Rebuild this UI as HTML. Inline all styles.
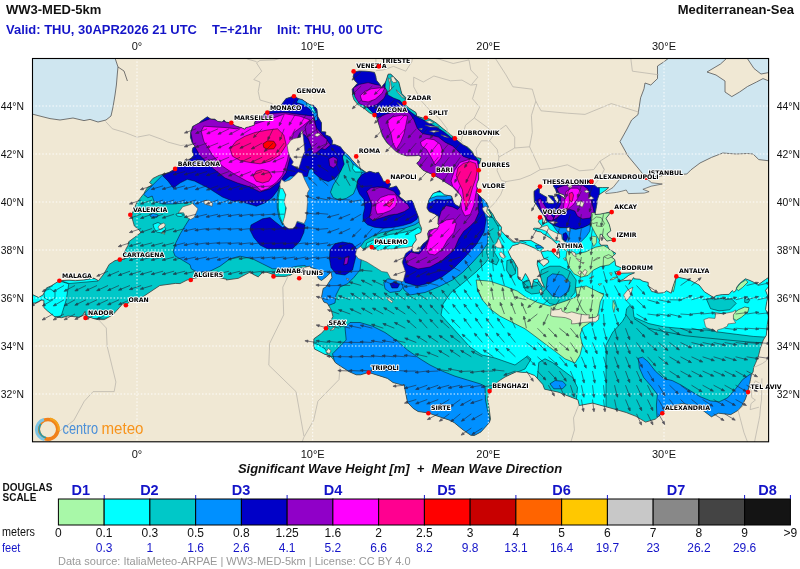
<!DOCTYPE html><html><head><meta charset="utf-8"><title>WW3-MED-5km Significant Wave Height</title>
<style>html,body{margin:0;padding:0;background:#fff}svg{display:block}text{font-family:"Liberation Sans","DejaVu Sans",sans-serif}.c{font-family:"DejaVu Sans","Liberation Sans",sans-serif;font-weight:bold;font-size:6.25px;fill:#000;stroke:#fff;stroke-width:1.8px;paint-order:stroke;stroke-linejoin:round}.ax{font-size:11px;fill:#111}.ft{font-size:12px;fill:#1414c8}.mt{font-size:12px;fill:#111}.d{font-size:14.5px;font-weight:bold;fill:#1414c8}</style></head><body>
<svg width="800" height="569" viewBox="0 0 800 569">
<rect width="800" height="569" fill="#fff"/>
<defs><clipPath id="fr"><rect x="32" y="58" width="737" height="384"/></clipPath>
<clipPath id="sea"><polygon points="30.7,293.7 38.6,297.5 43.0,294.9 46.5,287.9 51.3,285.8 59.4,280.7 69.0,280.2 75.2,280.7 83.9,280.0 93.8,278.1 98.5,280.7 103.8,274.0 109.2,264.4 115.0,260.6 119.8,259.6 124.9,258.9 123.3,254.3 125.1,250.5 128.0,245.4 128.6,241.8 134.7,237.3 141.0,232.5 138.9,229.8 134.4,226.0 133.1,221.7 131.4,215.2 133.5,210.4 136.7,202.7 144.0,193.4 145.4,190.7 147.5,187.6 152.3,184.7 149.5,182.6 152.8,178.5 159.0,175.4 168.8,172.5 175.1,168.9 180.0,165.3 186.2,161.9 192.0,157.6 193.7,155.2 192.2,151.1 192.9,147.8 195.3,146.3 192.5,143.7 190.4,137.2 190.6,132.4 192.7,126.4 198.5,123.3 202.0,120.4 207.3,116.8 210.8,119.0 214.8,119.2 217.8,121.4 222.2,122.1 224.0,119.9 225.7,122.1 231.3,122.8 234.3,125.0 235.6,125.9 241.2,127.6 245.0,129.3 245.9,127.6 248.9,126.9 254.3,125.2 254.3,123.5 255.6,119.9 260.3,116.8 262.3,116.8 264.7,113.4 267.3,112.5 268.8,111.5 273.7,110.6 278.1,108.9 281.4,104.8 286.0,98.6 293.9,96.2 298.8,98.8 302.1,99.5 309.7,104.8 313.6,105.3 316.9,109.1 317.4,113.7 317.9,116.8 321.5,122.8 321.5,131.7 325.8,131.9 325.5,134.8 330.2,136.7 332.5,140.8 332.0,144.4 334.6,144.4 340.4,146.8 344.1,151.8 348.7,155.7 351.7,159.5 358.7,167.2 366.3,172.5 369.8,171.3 375.4,173.0 378.5,172.2 381.7,177.5 383.5,181.6 387.3,181.8 390.8,184.0 388.7,188.1 393.5,186.9 396.3,185.9 399.6,191.2 400.2,193.6 398.8,196.0 405.4,201.3 411.6,200.3 413.2,202.5 414.4,206.6 418.6,217.4 419.3,222.9 421.6,228.4 420.9,232.5 415.1,235.1 416.3,239.9 413.2,244.0 411.7,247.4 412.5,251.2 414.2,251.9 419.1,251.9 421.2,246.4 423.3,243.5 425.1,242.3 428.3,239.2 427.7,233.4 429.1,230.3 436.0,228.2 437.4,228.4 439.2,225.3 437.9,224.1 438.3,216.4 434.8,214.0 429.1,211.6 426.9,208.0 427.4,205.1 429.1,199.6 433.0,193.6 439.7,190.7 444.4,194.8 451.5,196.0 453.2,200.8 455.0,204.4 459.5,206.8 462.0,198.4 460.2,194.8 452.3,186.6 446.2,182.8 440.9,179.2 433.4,174.9 423.0,170.3 416.7,163.1 419.1,161.2 421.2,156.9 418.4,155.2 416.0,155.7 406.7,155.9 400.5,154.0 395.6,151.1 390.0,145.6 386.8,142.7 382.4,136.0 381.0,131.2 378.2,122.6 376.3,116.8 374.3,115.1 369.2,112.7 365.7,109.8 363.8,108.2 357.8,104.6 354.0,99.8 352.7,95.9 352.2,89.2 357.5,83.2 354.8,80.8 353.1,76.7 354.3,71.9 359.2,71.0 365.4,71.2 370.6,71.7 374.5,72.4 375.9,76.5 376.4,80.1 380.3,85.1 381.2,87.5 385.6,82.0 386.8,78.4 388.2,74.1 390.7,74.1 398.8,82.0 401.7,93.5 405.8,97.6 404.4,103.1 408.4,107.7 416.0,112.5 416.7,116.1 422.5,118.0 425.8,117.8 430.4,119.4 436.0,122.8 443.2,128.8 447.9,132.4 454.8,138.4 457.1,140.1 462.3,144.4 468.0,147.3 472.4,151.8 474.3,155.9 477.3,157.6 481.1,158.6 479.6,163.6 478.7,164.1 478.7,170.3 478.7,174.4 478.7,179.2 477.1,182.8 476.4,186.6 479.2,191.2 476.0,191.9 482.2,198.4 484.0,199.6 488.3,205.1 488.3,208.2 492.7,214.0 495.4,219.3 501.5,227.2 501.2,230.8 507.3,237.3 512.9,242.1 519.4,242.1 520.5,240.6 530.9,240.4 535.8,243.3 541.0,245.9 543.7,248.1 540.2,251.2 536.7,249.8 534.5,248.1 524.9,244.0 519.6,242.8 518.7,244.0 512.4,245.7 508.2,251.7 511.5,258.6 512.9,259.6 517.7,268.0 517.9,275.9 518.2,278.3 521.4,280.7 522.8,278.8 525.4,273.5 527.5,276.9 530.0,281.9 531.9,288.6 533.5,279.8 537.5,278.8 541.9,286.0 544.6,287.4 541.9,281.4 538.9,270.4 537.2,264.4 537.5,260.3 543.7,266.3 545.4,264.9 548.9,262.0 547.7,259.6 543.9,258.6 541.0,251.9 547.2,250.7 552.1,251.4 554.6,254.8 559.0,258.4 559.7,256.7 558.8,249.5 559.5,246.4 555.1,242.3 551.6,239.0 546.3,235.6 542.8,233.7 541.0,232.0 537.2,231.3 533.1,229.1 534.4,228.2 539.3,228.4 541.9,226.0 538.4,221.7 540.2,217.4 542.8,218.8 542.4,223.6 547.2,222.4 544.6,216.4 539.3,209.2 536.7,205.1 534.4,202.0 534.0,195.5 534.0,191.2 540.0,186.9 539.3,190.0 539.3,192.9 544.6,196.0 546.8,197.2 546.8,202.0 548.1,203.2 553.3,203.7 554.2,202.0 549.8,197.2 548.1,195.5 553.3,196.0 554.7,199.6 558.3,203.2 558.6,199.6 556.0,194.8 558.3,194.1 565.6,198.9 563.9,194.8 556.5,192.4 555.6,189.5 553.3,185.9 554.2,184.7 560.4,185.0 567.4,184.7 576.2,184.7 585.0,184.7 592.0,184.7 594.6,185.2 597.3,187.6 602.5,187.6 608.7,187.6 606.0,190.0 599.0,194.8 596.9,201.0 597.3,202.0 596.4,206.8 595.0,214.5 599.9,214.2 609.9,212.1 610.4,212.8 606.0,218.3 609.2,224.3 610.1,227.7 610.8,230.8 606.9,233.9 608.7,236.8 613.8,239.9 610.4,240.4 606.9,241.1 604.3,238.0 601.6,234.2 600.1,234.4 599.9,239.2 599.0,242.3 600.8,245.2 607.4,245.2 608.7,248.8 615.9,253.4 611.7,257.2 614.8,259.6 615.7,265.6 621.9,268.0 618.3,271.1 615.7,271.6 615.7,274.0 618.9,273.3 634.5,272.8 628.9,275.2 623.6,279.3 617.8,281.7 623.4,280.7 630.6,280.0 629.8,282.4 628.9,284.3 633.6,277.6 634.1,278.8 639.8,279.3 642.9,281.2 648.2,282.4 648.2,285.5 651.7,291.5 653.6,291.8 657.7,293.2 664.0,292.7 666.6,290.8 671.2,293.2 672.4,288.4 674.0,283.6 676.3,276.9 679.8,277.6 685.1,278.8 688.4,279.5 699.1,285.0 704.4,291.8 713.7,297.5 716.2,295.6 722.3,294.6 729.0,294.4 732.2,290.6 733.8,292.2 735.7,290.8 736.9,287.0 739.6,283.6 745.3,278.8 750.1,280.5 758.5,284.6 765.5,279.5 769.4,276.9 771.2,276.9 771.2,284.8 769.4,285.5 767.3,288.2 765.5,290.3 768.0,296.8 766.8,301.6 765.5,309.5 768.0,313.4 768.4,317.7 767.3,324.6 766.3,335.2 763.3,340.0 760.3,348.4 758.3,356.6 755.4,363.5 753.6,367.6 753.1,371.9 751.5,374.3 750.4,379.6 749.2,386.1 747.6,392.3 745.5,398.8 743.9,401.9 742.0,405.5 738.1,410.3 730.8,414.6 718.5,413.2 711.4,416.8 704.4,411.5 696.0,405.5 681.6,403.6 670.5,406.7 665.2,410.3 662.3,413.2 655.2,419.2 645.6,422.1 635.9,416.3 626.2,412.5 615.5,409.4 592.5,403.1 579.3,405.5 577.9,399.8 558.1,392.1 544.6,389.2 542.8,384.4 534.7,375.5 526.5,372.4 522.9,372.4 516.4,371.7 505.0,377.0 498.4,381.3 489.6,391.1 487.5,398.8 488.3,402.4 490.5,419.2 489.2,422.8 481.0,431.9 474.3,435.5 470.8,435.3 463.2,430.0 459.4,426.9 454.4,422.8 450.2,420.4 428.4,413.0 418.1,411.5 413.2,408.4 407.5,402.4 404.0,384.4 402.3,385.1 393.0,382.5 387.5,378.4 368.7,372.4 360.6,374.8 356.2,374.8 349.2,371.7 340.1,365.9 335.5,362.8 332.3,358.0 329.4,355.6 325.0,354.4 314.4,348.9 313.6,343.6 313.9,338.8 321.5,333.3 326.0,328.2 330.2,322.0 332.9,316.5 331.3,310.0 327.3,303.3 323.9,302.1 321.5,297.3 323.2,288.4 325.7,287.2 332.0,277.6 331.1,272.1 326.7,276.4 321.5,280.5 318.1,278.3 316.2,269.9 317.6,269.7 310.4,267.3 309.9,266.1 299.0,268.5 290.9,275.0 285.3,276.4 273.5,276.4 273.7,274.7 267.0,272.3 263.0,272.1 258.2,276.9 252.4,274.0 250.7,271.8 238.4,278.3 226.2,280.0 226.6,279.3 214.6,276.4 205.9,275.9 193.9,278.3 190.8,279.3 187.1,280.0 180.0,283.6 175.5,283.4 159.8,285.5 138.6,299.7 131.7,301.4 131.2,300.4 125.8,305.2 122.9,303.5 119.4,307.6 112.8,314.8 104.3,319.6 98.4,319.6 94.8,318.9 86.1,316.0 85.4,315.0 85.0,311.4 82.5,315.5 79.0,317.2 68.0,316.0 61.5,317.7 55.0,317.0 47.8,311.2 43.9,307.6 43.9,300.4 41.3,299.9 38.6,301.6 35.1,303.0 30.7,303.0"/></clipPath>
<path id="ar" d="M0,0 L10,0 M12.4,0 L9.4,-1.15 L9.4,1.15 Z"/>
</defs>
<g clip-path="url(#fr)">
<rect x="32" y="58" width="737" height="384" fill="#f0e8d4"/>
<polygon points="646.0,178.0 638.0,168.0 628.0,156.0 620.0,141.6 627.0,129.0 631.6,120.0 638.0,114.6 640.6,97.8 644.0,88.8 645.0,83.0 650.8,85.0 657.5,78.6 657.5,66.0 664.0,61.8 668.8,58.0 727.0,58.0 720.5,64.0 707.0,72.0 716.0,75.0 725.0,81.0 725.0,92.0 731.8,96.6 739.6,92.0 747.5,86.5 756.5,82.0 763.0,78.6 769.0,81.0 769.0,160.8 758.8,159.6 753.0,154.0 747.5,153.5 736.0,154.0 722.8,153.0 711.5,157.4 700.0,163.0 691.0,169.8 686.8,174.0 664.0,175.4 648.5,177.6" fill="#cfe6f0" stroke="#555" stroke-width="0.8"/>
<polygon points="747.0,58.0 754.0,68.5 761.0,74.0 769.0,72.5 769.0,58.0" fill="#cfe6f0" stroke="#555" stroke-width="0.8"/>
<polygon points="32.0,58.0 115.0,58.0 118.0,67.0 117.4,73.0 116.4,85.0 115.0,95.0 113.0,107.0 111.0,116.0 106.0,120.0 98.0,122.0 90.0,119.4 84.0,120.6 73.0,118.0 60.0,120.0 50.0,118.6 42.0,116.6 32.0,114.0" fill="#cfe6f0" stroke="#555" stroke-width="0.8"/>
<polygon points="605.5,192.2 613.1,187.4 620.1,178.7 633.3,176.3 645.9,178.0 651.7,182.8 662.3,184.0 651.2,186.2 642.9,189.3 649.1,191.7 644.3,193.1 628.4,193.6 626.2,190.0 621.9,191.2 616.6,192.4 606.0,193.6" fill="#cfe6f0" stroke="#555" stroke-width="0.7"/>
<g clip-path="url(#sea)">
<rect x="32" y="58" width="737" height="384" fill="#00c8c8"/>
<polygon points="497.0,226.0 496.0,240.0 492.5,252.5 486.0,262.0 476.0,272.0 463.0,283.0 451.0,292.5 443.0,304.0 441.0,315.0 450.0,325.0 460.0,336.0 470.0,347.0 482.0,355.0 495.0,358.0 515.0,365.0 527.5,356.0 531.0,359.0 525.0,369.0 510.0,375.0 490.0,389.0 495.0,410.0 560.0,420.0 606.0,425.0 606.0,345.0 612.8,332.1 622.3,321.5 625.5,316.2 626.6,308.7 629.8,305.5 633.0,308.7 634.0,317.2 648.9,323.6 663.8,326.8 685.1,328.9 706.4,330.0 719.1,332.1 736.2,334.3 753.2,336.4 770.0,337.4 770.0,250.0 700.0,250.0 640.0,250.0 625.0,200.0 600.0,180.0 530.0,180.0 520.0,225.0" fill="#00ffff" stroke="#001" stroke-opacity="0.7" stroke-width="0.7"/>
<polygon points="541.2,270.0 550.0,266.2 560.0,266.2 570.0,271.2 576.2,280.0 575.0,292.5 567.5,301.2 557.5,305.0 550.0,303.8 542.5,297.5 540.0,288.8 530.0,289.5 523.8,288.0 522.5,282.5 527.5,280.0 535.0,285.0 540.0,280.0" fill="#00c8c8" stroke="#001" stroke-opacity="0.7" stroke-width="0.7"/>
<polygon points="547.5,277.5 552.5,273.8 562.5,275.0 570.0,282.5 568.8,291.2 560.0,297.5 552.5,296.2 546.2,288.8" fill="#0090ff" stroke="#001" stroke-opacity="0.7" stroke-width="0.7"/>
<polygon points="538.8,362.5 545.0,358.8 552.5,362.5 562.5,370.0 572.5,377.5 577.5,387.5 576.2,402.0 535.0,402.0" fill="#00c8c8" stroke="#001" stroke-opacity="0.7" stroke-width="0.7"/>
<polygon points="550.0,383.8 555.0,380.5 562.5,381.2 566.2,385.0 562.5,388.8 553.8,388.8" fill="#0090ff" stroke="#001" stroke-opacity="0.7" stroke-width="0.7"/>
<polygon points="706.4,299.1 719.1,298.1 731.9,299.1 736.2,303.4 729.8,309.8 719.1,310.9 710.6,308.7" fill="#00c8c8" stroke="#001" stroke-opacity="0.7" stroke-width="0.7"/>
<polygon points="744.7,298.1 747.9,297.7 749.6,300.2 747.9,303.0 744.7,302.3" fill="#00c8c8" stroke="#001" stroke-opacity="0.7" stroke-width="0.7"/>
<polygon points="476.2,280.0 490.0,281.2 505.0,286.2 517.5,291.2 526.2,297.5 537.5,302.5 550.0,306.2 565.0,301.2 575.0,297.5 582.5,287.5 587.5,290.0 603.8,293.8 595.0,301.2 590.0,307.5 598.8,318.8 590.0,322.5 582.5,327.5 580.0,335.0 582.5,345.0 580.0,355.0 575.0,363.0 565.0,358.8 555.0,351.2 545.0,343.8 535.0,336.2 525.0,328.8 512.5,322.5 500.0,316.2 490.0,308.8 482.5,300.0 477.5,290.0" fill="#a8f8a8" stroke="#001" stroke-opacity="0.7" stroke-width="0.7"/>
<polygon points="30.0,285.0 59.5,281.0 68.8,283.8 66.2,300.0 61.2,316.0 30.0,320.0" fill="#00ffff" stroke="#001" stroke-opacity="0.7" stroke-width="0.7"/>
<polygon points="59.0,280.0 98.0,278.5 98.0,281.0 69.0,283.5" fill="#00ffff" stroke="#001" stroke-opacity="0.7" stroke-width="0.7"/>
<polygon points="86.2,315.0 112.5,312.0 113.8,317.5 86.2,318.8" fill="#00ffff" stroke="#001" stroke-opacity="0.7" stroke-width="0.7"/>
<polygon points="162.7,175.0 143.4,194.3 147.8,197.8 152.2,196.0 154.0,201.3 162.7,204.0 173.3,204.0 183.8,203.0 192.6,202.2 196.0,210.0 190.0,218.0 185.6,225.0 180.3,233.8 175.9,242.6 173.3,251.4 175.0,256.0 180.0,258.7 190.0,264.7 191.2,268.8 197.5,272.5 210.0,271.2 220.0,266.2 230.0,258.8 240.0,256.2 252.5,258.8 262.5,263.8 272.5,268.8 285.0,268.8 297.5,266.2 305.0,265.5 315.0,275.0 322.0,285.0 321.0,300.0 327.0,306.0 335.0,303.0 336.0,295.0 340.0,287.0 347.5,283.8 353.8,277.5 360.0,270.0 361.2,260.0 358.0,250.0 364.8,240.5 372.7,236.1 381.5,232.6 393.8,230.0 404.4,228.2 414.9,224.7 419.3,222.0 425.0,200.0 400.0,170.0 360.0,150.0 330.0,120.0 300.0,90.0 260.0,105.0 230.0,120.0 200.0,115.0 185.0,140.0" fill="#0090ff" stroke="#001" stroke-opacity="0.7" stroke-width="0.7"/>
<polygon points="366.6,243.1 378.0,237.9 390.3,234.4 402.6,232.6 413.1,230.0 418.4,227.3 424.0,232.0 412.0,250.0 365.0,252.0" fill="#00ffff" stroke="#001" stroke-opacity="0.7" stroke-width="0.7"/>
<polygon points="342.8,153.5 350.8,160.5 355.1,167.6 362.2,172.0 360.4,176.4 357.8,180.8 356.0,187.8 353.4,193.9 346.4,198.3 339.3,200.1 333.2,197.5 330.5,192.2 333.2,185.1 337.6,178.1 341.1,169.3 342.0,160.5" fill="#00c8c8" stroke="#001" stroke-opacity="0.7" stroke-width="0.7"/>
<polygon points="353.4,164.1 357.8,167.6 364.8,172.0 355.1,172.0 352.5,168.5" fill="#00ffff" stroke="#001" stroke-opacity="0.7" stroke-width="0.7"/>
<polygon points="162.7,175.8 168.0,181.0 173.3,188.0 180.3,182.8 187.3,179.3 194.4,181.0 201.4,184.6 208.4,188.0 215.4,192.5 222.5,197.0 233.0,201.3 238.8,201.0 247.6,203.6 256.4,206.2 265.1,202.7 272.2,197.5 277.5,190.4 281.0,183.4 290.0,176.0 307.3,176.4 309.0,170.0 312.6,168.0 314.0,173.0 317.9,176.4 323.1,179.9 328.4,181.6 335.4,178.1 340.7,171.1 344.2,164.1 342.5,157.0 344.2,153.5 350.0,150.0 330.0,120.0 300.0,90.0 280.0,95.0 260.0,105.0 230.0,120.0 200.0,110.0 185.0,140.0 175.0,165.0" fill="#0000c8" stroke="#001" stroke-opacity="0.7" stroke-width="0.7"/>
<polygon points="251.0,225.0 262.5,218.8 270.0,217.5 276.0,222.5 282.5,227.5 290.0,223.8 297.5,222.5 305.0,225.0 303.8,232.5 300.0,241.0 292.5,248.8 280.0,248.8 267.5,248.8 260.0,245.0 253.8,237.5 250.0,230.0" fill="#0000c8" stroke="#001" stroke-opacity="0.7" stroke-width="0.7"/>
<polygon points="330.0,250.0 335.0,243.8 342.5,242.0 352.5,243.8 357.5,250.0 355.0,260.0 352.5,270.0 345.0,275.0 336.0,273.8 331.0,267.5 329.5,258.8" fill="#0000c8" stroke="#001" stroke-opacity="0.7" stroke-width="0.7"/>
<polygon points="345.0,257.5 348.8,256.0 347.5,263.8 343.8,265.0" fill="#9000c8" stroke="#001" stroke-opacity="0.7" stroke-width="0.7"/>
<polygon points="362.2,174.6 357.8,179.9 356.9,187.8 359.5,193.9 363.9,199.2 364.8,208.0 363.1,215.0 363.1,220.3 367.5,224.7 374.5,227.3 383.3,228.2 393.8,227.3 402.6,225.6 411.4,222.9 416.7,219.4 418.4,215.9 425.0,200.0 400.0,175.0 380.0,165.0" fill="#0000c8" stroke="#001" stroke-opacity="0.7" stroke-width="0.7"/>
<polygon points="366.6,191.3 371.0,187.8 378.0,186.9 385.0,187.8 393.8,191.3 397.3,195.7 402.6,201.0 407.9,204.5 409.6,208.0 404.4,211.5 397.3,214.1 390.3,215.0 381.5,217.7 372.7,220.3 369.2,217.7 371.0,211.5 371.8,204.5 369.2,197.5" fill="#9000c8" stroke="#001" stroke-opacity="0.7" stroke-width="0.7"/>
<polygon points="376.2,202.7 380.6,197.5 388.5,194.8 395.6,194.8 397.3,200.1 395.6,206.2 390.3,210.6 383.3,213.3 377.1,214.1 375.4,208.9" fill="#ff00ff" stroke="#001" stroke-opacity="0.7" stroke-width="0.7"/>
<polygon points="385.9,204.5 390.3,200.1 393.8,198.3 392.9,202.7 389.4,207.1" fill="#ff0090" stroke="#001" stroke-opacity="0.7" stroke-width="0.7"/>
<polygon points="383.8,282.5 387.5,278.8 400.0,280.0 405.0,285.0 400.0,291.2 390.0,292.5 385.0,288.8" fill="#0090ff" stroke="#001" stroke-opacity="0.7" stroke-width="0.7"/>
<polygon points="390.0,283.8 395.0,282.0 399.5,284.5 397.5,288.0 392.0,288.0" fill="#0000c8" stroke="#001" stroke-opacity="0.7" stroke-width="0.7"/>
<polygon points="193.8,125.0 210.0,118.8 232.5,123.0 250.0,125.0 267.5,113.8 285.0,112.5 300.0,114.5 313.8,116.2 316.2,127.5 325.0,137.5 330.5,145.0 325.0,149.5 315.0,146.2 310.0,141.2 305.0,135.0 300.0,132.5 296.2,142.5 290.0,157.5 286.2,172.5 280.0,181.2 270.0,188.8 260.0,192.0 250.0,187.0 237.5,183.0 225.0,178.0 212.5,168.0 200.0,155.5 193.0,143.8 190.8,132.5" fill="#9000c8" stroke="#001" stroke-opacity="0.7" stroke-width="0.7"/>
<polygon points="203.8,126.2 215.0,127.0 225.0,127.5 236.2,128.8 250.0,125.5 267.5,120.0 285.0,113.8 300.0,116.2 310.0,120.0 302.5,126.2 293.8,132.5 290.0,145.0 287.5,160.0 282.5,175.0 276.2,182.5 267.5,188.8 261.2,190.8 255.0,185.0 246.2,180.8 233.8,173.8 222.5,166.2 212.5,155.0 203.8,141.2 201.2,131.2" fill="#ff00ff" stroke="#001" stroke-opacity="0.7" stroke-width="0.7"/>
<polygon points="230.0,148.8 236.2,141.2 245.0,136.2 255.0,132.5 267.5,130.0 277.5,128.8 283.8,135.0 286.2,145.0 280.0,155.0 270.0,161.2 260.0,163.8 250.0,162.5 240.0,160.5 232.5,156.2" fill="#ff0090" stroke="#001" stroke-opacity="0.7" stroke-width="0.7"/>
<polygon points="263.0,143.8 267.5,140.8 273.8,141.2 276.2,145.0 273.8,148.8 267.5,149.2 263.8,147.5" fill="#ff0000" stroke="#001" stroke-opacity="0.7" stroke-width="0.7"/>
<polygon points="253.2,176.2 256.2,171.2 262.5,169.5 268.8,171.2 271.8,176.2 268.8,181.2 262.5,183.0 256.2,181.2" fill="#ff0090" stroke="#001" stroke-opacity="0.7" stroke-width="0.7"/>
<polygon points="307.7,122.8 313.0,118.4 315.6,125.4 317.4,132.5 322.7,136.0 327.1,139.5 326.2,144.8 321.8,148.3 316.5,152.7 313.0,153.5 311.2,146.5 308.6,139.5 306.0,132.5 305.1,127.2" fill="#9000c8" stroke="#001" stroke-opacity="0.7" stroke-width="0.7"/>
<polygon points="328.8,158.8 333.2,156.7 337.2,158.8 336.7,165.0 333.2,168.0 329.7,165.8" fill="#9000c8" stroke="#001" stroke-opacity="0.7" stroke-width="0.7"/>
<polygon points="401.0,281.0 404.0,290.0 410.0,295.0 425.0,292.5 440.0,286.2 452.5,280.0 462.5,272.5 472.0,263.0 481.0,253.0 488.0,243.0 492.5,233.0 492.0,218.0 489.0,208.0 486.0,203.0 488.0,200.0 480.0,195.0 440.0,230.0 405.0,260.0" fill="#0090ff" stroke="#001" stroke-opacity="0.7" stroke-width="0.7"/>
<polygon points="352.0,70.0 375.0,70.0 385.0,70.0 395.0,70.0 400.0,90.0 410.0,105.0 425.0,115.0 440.0,128.0 455.0,137.0 470.0,150.0 482.0,165.0 482.0,190.0 480.0,192.0 484.0,212.0 486.0,220.0 484.0,232.0 476.0,245.0 465.0,257.0 454.0,268.0 442.0,277.0 430.0,283.0 417.5,286.0 405.0,282.5 402.5,272.5 403.0,257.0 409.0,249.0 415.0,247.0 420.0,240.0 424.0,230.0 421.0,215.0 419.0,204.0 425.0,195.0 432.0,180.0 425.0,170.0 410.0,160.0 395.0,145.0 385.0,130.0 378.0,118.0 370.0,110.0 360.0,100.0 352.0,92.0 350.0,80.0" fill="#0000c8" stroke="#001" stroke-opacity="0.7" stroke-width="0.7"/>
<polygon points="385.5,79.0 385.0,87.9 388.0,95.0 393.5,98.0 400.0,100.5 404.0,105.5 411.0,112.2 418.0,117.3 427.0,121.8 436.0,126.8 444.5,132.3 451.5,138.0 460.0,135.0 440.0,115.0 420.0,100.0 405.0,85.0 395.0,70.0 385.0,70.0" fill="#00c8c8" stroke="#001" stroke-opacity="0.7" stroke-width="0.7"/>
<polygon points="353.2,87.9 359.3,84.4 368.1,82.6 375.1,84.4 383.9,86.1 387.5,91.4 383.9,98.4 376.9,104.6 368.1,107.2 359.3,103.7 354.9,96.7" fill="#9000c8" stroke="#001" stroke-opacity="0.7" stroke-width="0.7"/>
<polygon points="360.2,95.8 364.6,91.4 371.6,88.8 379.5,87.9 384.8,87.9 382.2,93.1 375.1,99.3 368.1,101.9 362.0,101.1" fill="#ff00ff" stroke="#001" stroke-opacity="0.7" stroke-width="0.7"/>
<polygon points="377.8,117.8 385.7,114.2 396.2,111.6 406.8,110.7 410.3,114.2 413.8,119.5 417.3,128.3 422.6,133.6 431.4,135.3 438.4,137.1 445.4,142.4 452.5,145.9 456.2,149.3 463.3,156.4 470.3,159.0 480.0,165.0 482.0,190.0 478.8,192.5 478.0,205.0 478.8,212.5 475.0,221.2 470.0,226.2 463.8,231.2 458.8,238.8 454.0,250.0 442.0,260.5 430.0,267.0 418.0,269.0 407.5,265.0 405.0,258.0 411.0,252.0 419.0,254.0 425.0,247.0 429.0,238.0 426.2,232.5 430.0,230.0 435.0,227.5 438.8,218.8 441.2,211.2 446.2,205.6 452.5,206.9 457.5,209.4 460.0,207.0 459.0,203.0 455.0,195.0 445.0,185.0 432.0,178.0 420.0,172.0 414.0,165.0 418.0,158.0 410.0,157.0 400.0,156.0 390.0,147.0 384.0,138.0 378.0,125.0" fill="#9000c8" stroke="#001" stroke-opacity="0.7" stroke-width="0.7"/>
<polygon points="387.5,120.4 392.7,116.9 401.5,115.1 407.7,116.0 405.9,124.8 404.1,133.6 400.6,142.4 396.2,149.4 392.7,142.4 391.0,133.6 388.3,126.5" fill="#ff00ff" stroke="#001" stroke-opacity="0.7" stroke-width="0.7"/>
<polygon points="420.5,142.0 426.4,138.5 434.0,139.7 440.4,144.5 442.5,151.0 441.0,158.0 435.1,165.0 431.6,158.1 426.4,149.3 421.5,146.0" fill="#ff00ff" stroke="#001" stroke-opacity="0.7" stroke-width="0.7"/>
<polygon points="451.0,181.0 454.5,170.4 459.8,162.5 470.3,159.0 477.3,160.8 479.0,170.4 478.2,182.7 475.6,195.0 473.8,205.6 470.3,214.4 465.0,216.0 461.5,209.0 460.6,200.3 458.0,191.5 452.7,186.2" fill="#ff00ff" stroke="#001" stroke-opacity="0.7" stroke-width="0.7"/>
<polygon points="458.0,167.8 463.3,163.4 470.3,161.6 475.6,163.4 477.3,170.4 475.6,179.2 472.5,188.0 470.0,197.0 467.5,205.0 466.0,208.5 464.5,203.0 463.3,196.8 462.4,189.8 458.9,182.7 456.2,175.7" fill="#ff0090" stroke="#001" stroke-opacity="0.7" stroke-width="0.7"/>
<polygon points="428.8,240.0 430.0,232.5 437.5,225.0 446.2,220.0 453.8,218.8 456.2,223.8 453.8,232.5 447.5,240.0 442.5,248.8 435.0,255.0 428.8,253.8 426.2,247.5" fill="#ff00ff" stroke="#001" stroke-opacity="0.7" stroke-width="0.7"/>
<polygon points="345.0,327.5 350.0,322.5 360.0,322.5 372.5,326.2 385.0,332.5 397.5,341.2 407.5,350.0 420.0,358.8 430.0,365.0 442.5,371.2 455.0,376.2 467.5,380.0 480.0,383.8 485.0,386.2 485.5,400.0 487.5,410.0 490.0,420.0 500.0,442.0 375.0,442.0 337.5,375.0 333.8,358.8 332.5,353.8 337.5,348.8 346.2,340.0" fill="#0090ff" stroke="#001" stroke-opacity="0.7" stroke-width="0.7"/>
<polygon points="312.5,342.5 318.8,345.0 325.0,348.8 327.5,353.8 322.5,355.5 313.8,352.5" fill="#00ffff" stroke="#001" stroke-opacity="0.7" stroke-width="0.7"/>
<polygon points="638.3,358.3 642.6,357.2 647.9,361.5 655.3,371.1 663.8,378.5 672.3,380.6 680.9,384.9 689.4,390.2 700.0,396.6 710.6,400.9 719.1,401.9 727.7,397.7 736.2,388.1 742.6,379.6 750.0,374.3 756.0,380.0 756.0,400.0 745.0,420.0 700.0,425.0 662.0,420.0 657.0,417.0 656.4,405.0 657.4,394.5 651.0,386.0 643.6,377.4 639.4,367.9" fill="#0090ff" stroke="#001" stroke-opacity="0.7" stroke-width="0.7"/>
<polygon points="533.5,184.7 599.4,184.7 599.4,206.6 595.9,216.3 591.5,223.3 583.6,227.7 575.7,229.5 567.8,227.7 559.9,227.7 552.8,225.1 546.7,220.7 540.5,211.9 534.4,201.4" fill="#0000c8" stroke="#001" stroke-opacity="0.7" stroke-width="0.7"/>
<polygon points="552.8,225.1 559.9,227.7 567.8,227.7 575.7,229.5 582.7,227.7 590.6,224.2 589.8,231.2 586.2,236.5 581.0,241.8 575.7,245.3 568.7,244.4 563.4,240.0 560.8,234.8 556.4,230.4" fill="#0090ff" stroke="#001" stroke-opacity="0.7" stroke-width="0.7"/>
<polygon points="563.0,233.9 566.0,232.6 567.8,236.5 566.0,240.9 563.4,239.7" fill="#0000c8" stroke="#001" stroke-opacity="0.7" stroke-width="0.7"/>
<polygon points="556.4,188.2 565.1,185.2 582.7,185.2 588.0,189.1 590.6,197.8 593.3,208.4 594.1,212.8 589.8,218.1 582.7,218.9 577.5,216.3 574.8,211.0 569.5,209.3 564.3,211.0 559.0,216.3 552.8,220.7 556.4,211.9 560.8,204.0 560.8,196.1" fill="#9000c8" stroke="#001" stroke-opacity="0.7" stroke-width="0.7"/>
<polygon points="537.9,199.6 540.5,198.7 544.9,205.8 549.3,212.8 553.7,218.1 552.0,221.0 547.6,219.8 544.1,214.5 540.5,208.4" fill="#9000c8" stroke="#001" stroke-opacity="0.7" stroke-width="0.7"/>
<polygon points="566.0,191.7 571.3,188.2 577.5,188.2 581.0,191.7 577.5,198.7 573.1,204.9 567.8,209.3 563.4,208.4 564.3,201.4 565.1,196.1" fill="#ff00ff" stroke="#001" stroke-opacity="0.7" stroke-width="0.7"/>
<polygon points="569.0,193.5 572.2,192.2 573.6,195.2 572.2,201.4 569.5,202.2" fill="#ff0090" stroke="#001" stroke-opacity="0.7" stroke-width="0.7"/>
<polygon points="591.5,212.8 603.8,212.8 612.6,212.8 614.4,227.7 614.4,245.3 607.3,245.3 600.3,241.8 595.0,233.0 590.6,224.2" fill="#a8f8a8" stroke="#001" stroke-opacity="0.7" stroke-width="0.7"/>
<polygon points="566.9,250.8 575.7,254.3 586.2,251.7 595.0,247.3 603.8,245.5 612.6,250.8 616.1,259.6 609.1,264.9 600.3,266.6 593.3,270.1 588.0,275.4 581.0,277.2 573.9,273.7 568.7,266.6 566.0,257.8" fill="#a8f8a8" stroke="#001" stroke-opacity="0.7" stroke-width="0.7"/>
<polygon points="575.7,287.7 586.2,286.0 596.8,291.2 603.8,294.8 600.3,301.8 598.5,312.3 596.8,317.6 589.8,317.6 582.7,310.6 577.5,300.0" fill="#a8f8a8" stroke="#001" stroke-opacity="0.7" stroke-width="0.7"/>
<polygon points="279.3,186.5 283.5,186.8 286.4,194.0 287.2,202.7 286.4,211.5 285.5,220.3 282.7,225.0 279.0,217.5 277.2,208.0 277.2,197.0" fill="#00c8c8" stroke="#001" stroke-opacity="0.7" stroke-width="0.7"/>
<polygon points="280.0,187.8 282.7,187.8 285.4,194.0 286.2,202.7 285.4,211.5 284.5,220.3 282.7,223.8 280.0,216.8 278.3,208.0 278.3,197.5" fill="#00ffff" stroke="#001" stroke-opacity="0.7" stroke-width="0.7"/>
<polygon points="296.3,102.6 303.3,104.7 309.8,109.3 313.3,114.5 315.1,121.0 317.6,120.1 316.9,113.1 313.9,107.0 307.7,101.7 298.9,98.2" fill="#0090ff" stroke="#001" stroke-opacity="0.7" stroke-width="0.7"/>
<polygon points="306.0,104.0 310.9,107.5 313.9,113.1 315.6,112.8 313.0,107.0 307.7,102.6" fill="#00ffff" stroke="#001" stroke-opacity="0.7" stroke-width="0.7"/>
<polygon points="149.5,214.5 153.0,213.4 158.3,215.0 157.0,217.3 151.0,217.0" fill="#0090ff" stroke="#001" stroke-opacity="0.7" stroke-width="0.7"/>
<polygon points="175.9,214.0 180.0,213.2 183.8,215.0 181.0,216.5 177.0,216.0" fill="#00ffff" stroke="#001" stroke-opacity="0.7" stroke-width="0.7"/>
<polygon points="153.0,224.5 158.0,222.5 163.0,225.0 166.0,229.0 162.0,233.0 156.5,232.0 154.0,228.0" fill="#00ffff" stroke="#001" stroke-opacity="0.7" stroke-width="0.7"/>
<polygon points="43.8,291.2 50.0,288.8 55.0,292.0 55.0,298.0 49.5,300.5 44.5,298.0" fill="#00ffff" stroke="#001" stroke-opacity="0.7" stroke-width="0.7"/>
<polygon points="426.0,192.0 452.0,192.0 452.0,199.0 445.0,200.0 436.0,199.5 429.0,203.0 425.0,205.0" fill="#0090ff" stroke="#001" stroke-opacity="0.7" stroke-width="0.7"/>
<polygon points="428.0,192.0 448.0,192.0 447.0,196.0 437.0,196.0 430.0,198.5" fill="#00ffff" stroke="#001" stroke-opacity="0.7" stroke-width="0.7"/>
<polygon points="485.0,208.5 487.5,208.5 491.5,215.0 490.5,217.0 487.0,213.5" fill="#a8f8a8" stroke="#001" stroke-opacity="0.7" stroke-width="0.7"/>
<polygon points="733.0,314.0 738.3,309.8 744.7,307.0 748.9,307.7 747.9,311.9 741.5,317.2 736.2,320.4 733.0,318.3" fill="#a8f8a8" stroke="#001" stroke-opacity="0.7" stroke-width="0.7"/>
<polygon points="736.2,288.5 740.4,283.2 745.7,280.0 747.9,282.1 742.6,287.4 738.3,290.6" fill="#a8f8a8" stroke="#001" stroke-opacity="0.7" stroke-width="0.7"/>
<polygon points="673.4,277.9 676.0,277.9 674.9,285.3 673.4,291.7 671.9,290.6 672.8,284.3" fill="#a8f8a8" stroke="#001" stroke-opacity="0.7" stroke-width="0.7"/>
<polygon points="486.7,216.7 492.8,217.6 498.1,226.4 499.9,235.1 496.4,243.9 494.6,252.7 499.0,259.8 496.4,265.0 489.3,261.5 486.7,252.7 487.6,240.4 488.5,228.1" fill="#00c8c8" stroke="#001" stroke-opacity="0.7" stroke-width="0.7"/>
<polygon points="506.9,260.6 513.1,258.9 516.0,265.0 515.3,273.8 510.4,276.4 506.6,270.3" fill="#00c8c8" stroke="#001" stroke-opacity="0.7" stroke-width="0.7"/>
<polygon points="523.6,282.6 529.8,280.0 536.8,282.6 542.1,287.9 539.4,293.1 531.5,294.0 525.4,290.5" fill="#00c8c8" stroke="#001" stroke-opacity="0.7" stroke-width="0.7"/>
<polygon points="535.4,245.3 542.9,244.8 543.8,247.5 536.8,248.5" fill="#0090ff" stroke="#001" stroke-opacity="0.7" stroke-width="0.7"/>
<polyline points="634,318.5 648.9,328.3 663.8,331.5 685.1,335.7 706.4,337.9 727.7,340 749,342 769,343.3" fill="none" stroke="#001" stroke-opacity="0.7" stroke-width="0.7"/>
</g>
<polygon points="30.7,293.7 38.6,297.5 43.0,294.9 46.5,287.9 51.3,285.8 59.4,280.7 69.0,280.2 75.2,280.7 83.9,280.0 93.8,278.1 98.5,280.7 103.8,274.0 109.2,264.4 115.0,260.6 119.8,259.6 124.9,258.9 123.3,254.3 125.1,250.5 128.0,245.4 128.6,241.8 134.7,237.3 141.0,232.5 138.9,229.8 134.4,226.0 133.1,221.7 131.4,215.2 133.5,210.4 136.7,202.7 144.0,193.4 145.4,190.7 147.5,187.6 152.3,184.7 149.5,182.6 152.8,178.5 159.0,175.4 168.8,172.5 175.1,168.9 180.0,165.3 186.2,161.9 192.0,157.6 193.7,155.2 192.2,151.1 192.9,147.8 195.3,146.3 192.5,143.7 190.4,137.2 190.6,132.4 192.7,126.4 198.5,123.3 202.0,120.4 207.3,116.8 210.8,119.0 214.8,119.2 217.8,121.4 222.2,122.1 224.0,119.9 225.7,122.1 231.3,122.8 234.3,125.0 235.6,125.9 241.2,127.6 245.0,129.3 245.9,127.6 248.9,126.9 254.3,125.2 254.3,123.5 255.6,119.9 260.3,116.8 262.3,116.8 264.7,113.4 267.3,112.5 268.8,111.5 273.7,110.6 278.1,108.9 281.4,104.8 286.0,98.6 293.9,96.2 298.8,98.8 302.1,99.5 309.7,104.8 313.6,105.3 316.9,109.1 317.4,113.7 317.9,116.8 321.5,122.8 321.5,131.7 325.8,131.9 325.5,134.8 330.2,136.7 332.5,140.8 332.0,144.4 334.6,144.4 340.4,146.8 344.1,151.8 348.7,155.7 351.7,159.5 358.7,167.2 366.3,172.5 369.8,171.3 375.4,173.0 378.5,172.2 381.7,177.5 383.5,181.6 387.3,181.8 390.8,184.0 388.7,188.1 393.5,186.9 396.3,185.9 399.6,191.2 400.2,193.6 398.8,196.0 405.4,201.3 411.6,200.3 413.2,202.5 414.4,206.6 418.6,217.4 419.3,222.9 421.6,228.4 420.9,232.5 415.1,235.1 416.3,239.9 413.2,244.0 411.7,247.4 412.5,251.2 414.2,251.9 419.1,251.9 421.2,246.4 423.3,243.5 425.1,242.3 428.3,239.2 427.7,233.4 429.1,230.3 436.0,228.2 437.4,228.4 439.2,225.3 437.9,224.1 438.3,216.4 434.8,214.0 429.1,211.6 426.9,208.0 427.4,205.1 429.1,199.6 433.0,193.6 439.7,190.7 444.4,194.8 451.5,196.0 453.2,200.8 455.0,204.4 459.5,206.8 462.0,198.4 460.2,194.8 452.3,186.6 446.2,182.8 440.9,179.2 433.4,174.9 423.0,170.3 416.7,163.1 419.1,161.2 421.2,156.9 418.4,155.2 416.0,155.7 406.7,155.9 400.5,154.0 395.6,151.1 390.0,145.6 386.8,142.7 382.4,136.0 381.0,131.2 378.2,122.6 376.3,116.8 374.3,115.1 369.2,112.7 365.7,109.8 363.8,108.2 357.8,104.6 354.0,99.8 352.7,95.9 352.2,89.2 357.5,83.2 354.8,80.8 353.1,76.7 354.3,71.9 359.2,71.0 365.4,71.2 370.6,71.7 374.5,72.4 375.9,76.5 376.4,80.1 380.3,85.1 381.2,87.5 385.6,82.0 386.8,78.4 388.2,74.1 390.7,74.1 398.8,82.0 401.7,93.5 405.8,97.6 404.4,103.1 408.4,107.7 416.0,112.5 416.7,116.1 422.5,118.0 425.8,117.8 430.4,119.4 436.0,122.8 443.2,128.8 447.9,132.4 454.8,138.4 457.1,140.1 462.3,144.4 468.0,147.3 472.4,151.8 474.3,155.9 477.3,157.6 481.1,158.6 479.6,163.6 478.7,164.1 478.7,170.3 478.7,174.4 478.7,179.2 477.1,182.8 476.4,186.6 479.2,191.2 476.0,191.9 482.2,198.4 484.0,199.6 488.3,205.1 488.3,208.2 492.7,214.0 495.4,219.3 501.5,227.2 501.2,230.8 507.3,237.3 512.9,242.1 519.4,242.1 520.5,240.6 530.9,240.4 535.8,243.3 541.0,245.9 543.7,248.1 540.2,251.2 536.7,249.8 534.5,248.1 524.9,244.0 519.6,242.8 518.7,244.0 512.4,245.7 508.2,251.7 511.5,258.6 512.9,259.6 517.7,268.0 517.9,275.9 518.2,278.3 521.4,280.7 522.8,278.8 525.4,273.5 527.5,276.9 530.0,281.9 531.9,288.6 533.5,279.8 537.5,278.8 541.9,286.0 544.6,287.4 541.9,281.4 538.9,270.4 537.2,264.4 537.5,260.3 543.7,266.3 545.4,264.9 548.9,262.0 547.7,259.6 543.9,258.6 541.0,251.9 547.2,250.7 552.1,251.4 554.6,254.8 559.0,258.4 559.7,256.7 558.8,249.5 559.5,246.4 555.1,242.3 551.6,239.0 546.3,235.6 542.8,233.7 541.0,232.0 537.2,231.3 533.1,229.1 534.4,228.2 539.3,228.4 541.9,226.0 538.4,221.7 540.2,217.4 542.8,218.8 542.4,223.6 547.2,222.4 544.6,216.4 539.3,209.2 536.7,205.1 534.4,202.0 534.0,195.5 534.0,191.2 540.0,186.9 539.3,190.0 539.3,192.9 544.6,196.0 546.8,197.2 546.8,202.0 548.1,203.2 553.3,203.7 554.2,202.0 549.8,197.2 548.1,195.5 553.3,196.0 554.7,199.6 558.3,203.2 558.6,199.6 556.0,194.8 558.3,194.1 565.6,198.9 563.9,194.8 556.5,192.4 555.6,189.5 553.3,185.9 554.2,184.7 560.4,185.0 567.4,184.7 576.2,184.7 585.0,184.7 592.0,184.7 594.6,185.2 597.3,187.6 602.5,187.6 608.7,187.6 606.0,190.0 599.0,194.8 596.9,201.0 597.3,202.0 596.4,206.8 595.0,214.5 599.9,214.2 609.9,212.1 610.4,212.8 606.0,218.3 609.2,224.3 610.1,227.7 610.8,230.8 606.9,233.9 608.7,236.8 613.8,239.9 610.4,240.4 606.9,241.1 604.3,238.0 601.6,234.2 600.1,234.4 599.9,239.2 599.0,242.3 600.8,245.2 607.4,245.2 608.7,248.8 615.9,253.4 611.7,257.2 614.8,259.6 615.7,265.6 621.9,268.0 618.3,271.1 615.7,271.6 615.7,274.0 618.9,273.3 634.5,272.8 628.9,275.2 623.6,279.3 617.8,281.7 623.4,280.7 630.6,280.0 629.8,282.4 628.9,284.3 633.6,277.6 634.1,278.8 639.8,279.3 642.9,281.2 648.2,282.4 648.2,285.5 651.7,291.5 653.6,291.8 657.7,293.2 664.0,292.7 666.6,290.8 671.2,293.2 672.4,288.4 674.0,283.6 676.3,276.9 679.8,277.6 685.1,278.8 688.4,279.5 699.1,285.0 704.4,291.8 713.7,297.5 716.2,295.6 722.3,294.6 729.0,294.4 732.2,290.6 733.8,292.2 735.7,290.8 736.9,287.0 739.6,283.6 745.3,278.8 750.1,280.5 758.5,284.6 765.5,279.5 769.4,276.9 771.2,276.9 771.2,284.8 769.4,285.5 767.3,288.2 765.5,290.3 768.0,296.8 766.8,301.6 765.5,309.5 768.0,313.4 768.4,317.7 767.3,324.6 766.3,335.2 763.3,340.0 760.3,348.4 758.3,356.6 755.4,363.5 753.6,367.6 753.1,371.9 751.5,374.3 750.4,379.6 749.2,386.1 747.6,392.3 745.5,398.8 743.9,401.9 742.0,405.5 738.1,410.3 730.8,414.6 718.5,413.2 711.4,416.8 704.4,411.5 696.0,405.5 681.6,403.6 670.5,406.7 665.2,410.3 662.3,413.2 655.2,419.2 645.6,422.1 635.9,416.3 626.2,412.5 615.5,409.4 592.5,403.1 579.3,405.5 577.9,399.8 558.1,392.1 544.6,389.2 542.8,384.4 534.7,375.5 526.5,372.4 522.9,372.4 516.4,371.7 505.0,377.0 498.4,381.3 489.6,391.1 487.5,398.8 488.3,402.4 490.5,419.2 489.2,422.8 481.0,431.9 474.3,435.5 470.8,435.3 463.2,430.0 459.4,426.9 454.4,422.8 450.2,420.4 428.4,413.0 418.1,411.5 413.2,408.4 407.5,402.4 404.0,384.4 402.3,385.1 393.0,382.5 387.5,378.4 368.7,372.4 360.6,374.8 356.2,374.8 349.2,371.7 340.1,365.9 335.5,362.8 332.3,358.0 329.4,355.6 325.0,354.4 314.4,348.9 313.6,343.6 313.9,338.8 321.5,333.3 326.0,328.2 330.2,322.0 332.9,316.5 331.3,310.0 327.3,303.3 323.9,302.1 321.5,297.3 323.2,288.4 325.7,287.2 332.0,277.6 331.1,272.1 326.7,276.4 321.5,280.5 318.1,278.3 316.2,269.9 317.6,269.7 310.4,267.3 309.9,266.1 299.0,268.5 290.9,275.0 285.3,276.4 273.5,276.4 273.7,274.7 267.0,272.3 263.0,272.1 258.2,276.9 252.4,274.0 250.7,271.8 238.4,278.3 226.2,280.0 226.6,279.3 214.6,276.4 205.9,275.9 193.9,278.3 190.8,279.3 187.1,280.0 180.0,283.6 175.5,283.4 159.8,285.5 138.6,299.7 131.7,301.4 131.2,300.4 125.8,305.2 122.9,303.5 119.4,307.6 112.8,314.8 104.3,319.6 98.4,319.6 94.8,318.9 86.1,316.0 85.4,315.0 85.0,311.4 82.5,315.5 79.0,317.2 68.0,316.0 61.5,317.7 55.0,317.0 47.8,311.2 43.9,307.6 43.9,300.4 41.3,299.9 38.6,301.6 35.1,303.0 30.7,303.0" fill="none" stroke="#3c3c3c" stroke-width="0.8"/>
<polygon points="178.3,212.8 183.6,212.8 185.3,216.4 190.6,219.5 194.1,217.6 198.0,208.7 192.3,203.2 190.6,204.4 182.7,206.8" fill="#f0e8d4" stroke="#444" stroke-width="0.6"/>
<polygon points="203.8,200.8 204.3,203.9 212.2,206.3 212.5,203.2 209.0,200.3" fill="#f0e8d4" stroke="#444" stroke-width="0.6"/>
<polygon points="158.1,227.2 159.8,229.6 164.2,227.2 165.5,224.8 163.4,223.1 159.8,224.8" fill="#f0e8d4" stroke="#444" stroke-width="0.6"/>
<polygon points="161.2,232.7 164.8,234.2 164.2,232.0" fill="#a8f8a8" stroke="#444" stroke-width="0.6"/>
<polygon points="302.1,130.0 303.4,137.2 304.8,151.6 302.1,157.6 300.4,163.6 298.6,168.9 291.6,164.8 293.3,161.9 289.8,156.4 288.1,151.6 287.2,145.6 290.7,140.3 293.9,138.6 300.4,137.2 300.9,132.4" fill="#f0e8d4" stroke="#444" stroke-width="0.6"/>
<polygon points="298.3,172.0 302.1,173.2 304.8,179.9 309.5,189.3 307.4,193.1 307.4,203.7 306.2,218.8 304.2,223.6 297.2,221.2 295.1,226.5 292.5,228.9 289.0,229.1 284.6,226.0 282.8,222.4 284.6,216.4 286.3,208.0 285.1,205.4 284.2,201.3 285.8,194.8 282.8,188.6 280.3,188.6 279.8,184.5 281.4,179.2 284.6,181.8 289.8,179.9 292.8,177.5" fill="#f0e8d4" stroke="#444" stroke-width="0.6"/>
<polygon points="413.2,247.1 411.0,249.5 405.6,253.6 402.1,262.0 404.4,268.5 405.6,272.3 403.1,281.7 397.9,280.7 390.8,278.8 387.3,272.3 381.9,271.6 374.7,267.0 366.8,262.0 358.2,258.4 355.4,254.8 356.6,249.5 360.6,246.4 363.3,249.3 367.1,248.1 370.6,245.7 371.7,247.6 374.9,248.1 377.7,250.5 383.3,249.3 394.0,248.8 398.8,248.1 405.8,247.6 411.0,246.4" fill="#f0e8d4" stroke="#444" stroke-width="0.6"/>
<polygon points="386.5,296.8 389.1,298.5 393.0,301.6 391.7,302.8 388.2,300.4" fill="#f0e8d4" stroke="#444" stroke-width="0.6"/>
<polygon points="314.4,135.3 317.1,136.7 320.4,134.8 318.8,133.1 316.2,133.6" fill="#f0e8d4" stroke="#444" stroke-width="0.6"/>
<polygon points="551.2,307.6 552.5,310.0 559.0,309.5 561.2,308.1 562.1,311.2 566.9,313.1 571.8,311.9 578.5,313.8 585.0,314.8 589.4,314.8 588.8,318.4 592.0,317.7 595.5,317.2 599.2,314.6 598.5,319.6 595.5,322.0 589.2,322.0 583.2,322.5 574.9,323.7 571.4,323.9 571.8,320.8 570.7,319.6 565.6,317.7 561.1,317.2 553.0,316.5 550.4,315.5 551.1,310.0" fill="#f0e8d4" stroke="#444" stroke-width="0.6"/>
<polygon points="703.9,319.6 708.8,317.9 715.0,318.4 715.5,314.8 715.3,312.4 722.3,313.8 732.5,311.9 736.0,310.0 735.2,312.4 733.4,314.8 733.4,319.1 735.7,323.0 728.0,323.9 727.3,326.3 722.7,328.5 717.6,329.9 717.2,332.3 714.1,330.2 706.3,327.8 705.3,325.6 704.4,322.0" fill="#f0e8d4" stroke="#444" stroke-width="0.6"/>
<polygon points="632.9,287.2 630.5,295.8 626.4,300.9 623.6,295.1 627.5,290.1" fill="#f0e8d4" stroke="#444" stroke-width="0.6"/>
<polygon points="613.1,300.4 615.2,305.2 613.9,312.4 612.7,307.6" fill="#a8f8a8" stroke="#444" stroke-width="0.6"/>
<polygon points="609.9,280.0 613.1,279.5 617.5,276.9 613.1,277.6" fill="#a8f8a8" stroke="#444" stroke-width="0.6"/>
<polygon points="603.8,256.7 607.8,258.6 612.5,256.7 608.7,254.6" fill="#a8f8a8" stroke="#444" stroke-width="0.6"/>
<polygon points="593.4,260.8 600.1,257.7 597.3,257.7" fill="#a8f8a8" stroke="#444" stroke-width="0.6"/>
<polygon points="591.5,236.1 596.6,236.8 596.4,242.8 593.7,246.4 592.0,242.8" fill="#a8f8a8" stroke="#444" stroke-width="0.6"/>
<polygon points="590.8,221.2 596.4,216.9 601.1,217.6 604.6,223.6 602.5,226.5 596.4,226.0 597.3,222.4 592.9,223.6" fill="#a8f8a8" stroke="#444" stroke-width="0.6"/>
<polygon points="576.7,205.6 577.1,202.0 581.4,201.3 584.1,203.2 582.3,207.3 579.7,205.6" fill="#f0e8d4" stroke="#444" stroke-width="0.6"/>
<polygon points="567.7,186.4 570.0,182.8 572.3,186.4 570.0,188.3" fill="#f0e8d4" stroke="#444" stroke-width="0.6"/>
<polygon points="584.1,191.2 586.7,190.0 589.4,191.7 586.7,192.9" fill="#f0e8d4" stroke="#444" stroke-width="0.6"/>
<polygon points="587.9,198.4 591.1,196.2 594.1,198.4 591.1,199.6" fill="#f0e8d4" stroke="#444" stroke-width="0.6"/>
<polygon points="538.4,229.1 542.8,226.5 547.2,225.3 549.8,229.6 556.9,233.2 561.6,234.4 562.1,239.2 568.8,246.2 566.0,250.5 562.1,248.1 559.5,240.9 555.1,240.6 551.9,238.0 546.7,231.5 541.9,229.6" fill="#f0e8d4" stroke="#444" stroke-width="0.6"/>
<polygon points="566.5,228.4 569.2,227.2 570.0,231.3 567.4,231.3" fill="#f0e8d4" stroke="#444" stroke-width="0.6"/>
<polygon points="548.9,221.7 553.3,221.2 557.7,222.4 553.3,224.1" fill="#f0e8d4" stroke="#444" stroke-width="0.6"/>
<polygon points="570.9,250.7 575.3,252.9 576.2,257.2 572.7,254.8" fill="#f0e8d4" stroke="#444" stroke-width="0.6"/>
<polygon points="576.2,258.4 580.6,260.1 579.7,262.0" fill="#f0e8d4" stroke="#444" stroke-width="0.6"/>
<polygon points="582.3,272.8 585.0,269.2 587.1,271.6 585.0,275.9" fill="#f0e8d4" stroke="#444" stroke-width="0.6"/>
<polygon points="577.9,272.8 580.0,270.4 581.4,272.8 579.7,274.5" fill="#f0e8d4" stroke="#444" stroke-width="0.6"/>
<polygon points="581.4,262.5 584.1,262.5 583.2,263.9" fill="#f0e8d4" stroke="#444" stroke-width="0.6"/>
<polygon points="563.5,258.4 565.6,257.7 565.3,260.8" fill="#f0e8d4" stroke="#444" stroke-width="0.6"/>
<polygon points="564.2,280.7 568.3,279.5 567.4,282.4" fill="#a8f8a8" stroke="#444" stroke-width="0.6"/>
<polygon points="582.3,287.2 584.6,287.2 584.1,289.6" fill="#a8f8a8" stroke="#444" stroke-width="0.6"/>
<polygon points="580.6,280.0 583.2,280.7 581.4,281.9" fill="#a8f8a8" stroke="#444" stroke-width="0.6"/>
<polygon points="589.4,278.3 593.7,275.9 592.9,277.6" fill="#a8f8a8" stroke="#444" stroke-width="0.6"/>
<polygon points="609.6,272.8 612.2,272.8 611.3,275.7" fill="#a8f8a8" stroke="#444" stroke-width="0.6"/>
<polygon points="598.1,284.1 601.6,283.6 599.9,285.5" fill="#a8f8a8" stroke="#444" stroke-width="0.6"/>
<polygon points="539.3,290.8 541.0,288.9 542.8,292.7 541.0,294.9" fill="#f0e8d4" stroke="#444" stroke-width="0.6"/>
<polygon points="482.2,208.0 485.7,206.3 487.5,207.3 486.6,211.6 490.1,216.4 489.2,217.1 485.7,214.0 483.1,210.4" fill="#f0e8d4" stroke="#444" stroke-width="0.6"/>
<polygon points="498.0,232.0 501.0,229.6 501.0,235.1 498.5,236.3" fill="#f0e8d4" stroke="#444" stroke-width="0.6"/>
<polygon points="494.5,245.2 497.1,242.1 498.0,238.5 499.8,240.4 502.4,247.1 501.5,248.3 497.1,247.6" fill="#f0e8d4" stroke="#444" stroke-width="0.6"/>
<polygon points="499.2,253.6 501.0,251.7 505.9,256.7 503.3,258.4 500.6,256.7" fill="#f0e8d4" stroke="#444" stroke-width="0.6"/>
<polygon points="346.4,278.3 348.7,278.8 347.8,280.5" fill="#f0e8d4" stroke="#444" stroke-width="0.6"/>
<polygon points="325.8,352.0 328.5,348.4 331.1,350.8 329.4,353.7" fill="#f0e8d4" stroke="#444" stroke-width="0.6"/>
<polygon points="330.2,330.4 335.5,325.6 333.8,329.7" fill="#f0e8d4" stroke="#444" stroke-width="0.6"/>
<polygon points="390.8,77.2 393.5,76.5 397.0,82.0 393.5,82.7 391.7,80.8" fill="#f0e8d4" stroke="#444" stroke-width="0.6"/>
<polygon points="388.2,77.9 390.3,79.6 391.7,89.2 389.1,91.6 390.0,84.4" fill="#f0e8d4" stroke="#444" stroke-width="0.6"/>
<polygon points="396.1,89.7 400.5,94.0 404.9,98.3 402.3,97.6 397.9,92.8" fill="#f0e8d4" stroke="#444" stroke-width="0.6"/>
<polygon points="397.0,102.4 400.5,104.8 404.9,108.9 402.3,108.4" fill="#f0e8d4" stroke="#444" stroke-width="0.6"/>
<polygon points="425.5,121.6 429.5,120.4 433.9,122.8 429.5,123.5" fill="#f0e8d4" stroke="#444" stroke-width="0.6"/>
<polygon points="425.1,125.2 430.4,125.9 439.2,127.1 430.4,127.1" fill="#f0e8d4" stroke="#444" stroke-width="0.6"/>
<polygon points="429.5,131.2 433.9,130.5 439.2,131.2 433.9,132.4" fill="#f0e8d4" stroke="#444" stroke-width="0.6"/>
<polygon points="440.9,134.8 445.3,136.0 448.8,137.7 444.4,136.7" fill="#f0e8d4" stroke="#444" stroke-width="0.6"/>
<polygon points="419.0,128.8 422.5,128.3 421.6,130.0" fill="#f0e8d4" stroke="#444" stroke-width="0.6"/>
<polyline points="118,67 124,71 127.4,81" fill="none" stroke="#555" stroke-width="0.8"/>
<polyline points="105.7,121.6 112.4,128.8 124.7,132.4 137.0,137.2 149.3,134.8 162.5,139.6 167.7,142.0 180.9,145.6 192.7,143.7" fill="none" stroke="#b4b0a8" stroke-width="0.7"/>
<polyline points="268.8,111.3 272.3,103.6 260.0,100.0 258.2,91.6 260.0,82.0 253.8,79.6 261.7,71.2 256.5,62.8 260.0,60.4 274.9,59.9 284.6,56.8" fill="none" stroke="#b4b0a8" stroke-width="0.7"/>
<polyline points="242.4,55.6 247.7,59.2 256.5,61.6" fill="none" stroke="#b4b0a8" stroke-width="0.7"/>
<polyline points="378.0,67.6 375.9,62.8 375.9,56.8" fill="none" stroke="#b4b0a8" stroke-width="0.7"/>
<polyline points="375.9,70.7 382.9,70.0 393.5,66.4 405.8,71.2 411.9,61.6 412.8,56.8" fill="none" stroke="#b4b0a8" stroke-width="0.7"/>
<polyline points="413.7,77.2 413.7,86.8 421.6,101.2 430.4,110.8 440.0,119.2 447.1,128.8 447.1,132.4 461.1,140.8 462.9,143.9" fill="none" stroke="#b4b0a8" stroke-width="0.7"/>
<polyline points="413.7,77.2 423.3,82.0 433.9,76.0 450.6,80.8 462.0,80.1 470.8,85.1 476.9,84.4" fill="none" stroke="#b4b0a8" stroke-width="0.7"/>
<polyline points="426.9,56.8 439.2,59.2 453.2,63.5 469.0,59.9 470.8,70.0 477.8,77.2 471.7,84.4" fill="none" stroke="#b4b0a8" stroke-width="0.7"/>
<polyline points="476.9,84.4 472.5,98.8 479.6,107.2 474.3,118.0 465.5,125.2 461.1,140.8" fill="none" stroke="#b4b0a8" stroke-width="0.7"/>
<polyline points="477.3,157.6 476.0,149.2 481.3,140.8 489.6,140.8" fill="none" stroke="#b4b0a8" stroke-width="0.7"/>
<polyline points="474.3,118.0 487.5,127.6 494.5,133.6 489.6,140.8 497.1,149.2 498.9,157.1 497.1,170.8 501.5,180.4 505.9,181.6 500.6,194.8 494.5,203.2 488.3,209.2" fill="none" stroke="#b4b0a8" stroke-width="0.7"/>
<polyline points="505.9,181.6 520.0,179.2 530.5,175.1 540.2,169.6 551.6,168.4 567.4,164.8 579.7,170.8 593.7,169.6 599.9,161.2 611.3,154.0 628.9,154.0" fill="none" stroke="#b4b0a8" stroke-width="0.7"/>
<polyline points="594.6,184.5 599.9,178.0 604.3,169.6 599.9,161.2" fill="none" stroke="#b4b0a8" stroke-width="0.7"/>
<polyline points="540.2,169.6 529.6,146.8 532.3,132.4 531.4,115.6 535.8,101.2 541.0,110.8 567.4,113.2 585.0,114.4 611.3,103.6 639.1,112.2" fill="none" stroke="#b4b0a8" stroke-width="0.7"/>
<polyline points="535.8,101.2 532.3,89.2 512.9,86.8 505.9,74.8 493.6,55.6" fill="none" stroke="#b4b0a8" stroke-width="0.7"/>
<polyline points="498.9,157.1 514.7,148.0 529.6,146.8" fill="none" stroke="#b4b0a8" stroke-width="0.7"/>
<polyline points="494.5,133.6 505.9,125.2 514.7,137.2 514.7,148.0" fill="none" stroke="#b4b0a8" stroke-width="0.7"/>
<polyline points="630.6,56.8 632.4,71.2 658.7,74.8" fill="none" stroke="#b4b0a8" stroke-width="0.7"/>
<polyline points="753.6,367.6 762.4,363.5 766.8,360.4" fill="none" stroke="#b4b0a8" stroke-width="0.7"/>
<polyline points="738.1,410.3 743.9,432.4 747.5,442.0" fill="none" stroke="#b4b0a8" stroke-width="0.7"/>
<polyline points="738.1,410.3 743.1,406.0 743.9,401.9" fill="none" stroke="#b4b0a8" stroke-width="0.7"/>
<polyline points="761.9,378.4 761.5,400.0 760.6,406.0 759.8,415.6 758.9,420.4 754.5,442.0" fill="none" stroke="#b4b0a8" stroke-width="0.7"/>
<polyline points="761.5,384.4 755.4,380.8 751.0,389.2 751.8,397.6 755.4,400.0 751.0,403.6 750.1,409.6 758.9,407.2" fill="none" stroke="#b4b0a8" stroke-width="0.7"/>
<polyline points="578.8,404.8 573.5,418.0 574.4,430.0 570.9,442.0" fill="none" stroke="#b4b0a8" stroke-width="0.7"/>
<polyline points="340.1,365.9 339.0,379.6 317.9,401.2 313.6,420.4 303.9,437.2 302.1,442.0" fill="none" stroke="#b4b0a8" stroke-width="0.7"/>
<polyline points="288.4,275.4 282.8,287.2 283.7,314.8 269.6,343.6 268.8,365.2 296.0,391.6 303.9,436.0" fill="none" stroke="#b4b0a8" stroke-width="0.7"/>
<polyline points="98.4,319.6 106.3,328.0 107.1,346.0 115.9,382.0 114.2,391.6 93.1,391.6 84.3,401.2 73.8,420.4 58.0,432.4 49.2,442.0" fill="none" stroke="#b4b0a8" stroke-width="0.7"/>
<polyline points="768.0,299.9 772.0,301.6" fill="none" stroke="#b4b0a8" stroke-width="0.7"/>
<polyline points="768.9,330.4 772.9,331.6" fill="none" stroke="#b4b0a8" stroke-width="0.7"/>
<polyline points="604.3,169.6 599.9,161.2" fill="none" stroke="#b4b0a8" stroke-width="0.7"/>
<line x1="137.0" y1="58" x2="137.0" y2="442" stroke="#fff" stroke-width="0.9" stroke-dasharray="1.5,1.9"/>
<line x1="312.7" y1="58" x2="312.7" y2="442" stroke="#fff" stroke-width="0.9" stroke-dasharray="1.5,1.9"/>
<line x1="488.3" y1="58" x2="488.3" y2="442" stroke="#fff" stroke-width="0.9" stroke-dasharray="1.5,1.9"/>
<line x1="664.0" y1="58" x2="664.0" y2="442" stroke="#fff" stroke-width="0.9" stroke-dasharray="1.5,1.9"/>
<line x1="32" y1="394.0" x2="769" y2="394.0" stroke="#fff" stroke-width="0.9" stroke-dasharray="1.5,1.9"/>
<line x1="32" y1="346.0" x2="769" y2="346.0" stroke="#fff" stroke-width="0.9" stroke-dasharray="1.5,1.9"/>
<line x1="32" y1="298.0" x2="769" y2="298.0" stroke="#fff" stroke-width="0.9" stroke-dasharray="1.5,1.9"/>
<line x1="32" y1="250.0" x2="769" y2="250.0" stroke="#fff" stroke-width="0.9" stroke-dasharray="1.5,1.9"/>
<line x1="32" y1="202.0" x2="769" y2="202.0" stroke="#fff" stroke-width="0.9" stroke-dasharray="1.5,1.9"/>
<line x1="32" y1="154.0" x2="769" y2="154.0" stroke="#fff" stroke-width="0.9" stroke-dasharray="1.5,1.9"/>
<line x1="32" y1="106.0" x2="769" y2="106.0" stroke="#fff" stroke-width="0.9" stroke-dasharray="1.5,1.9"/>
<g fill="#223" stroke="#223" stroke-width="0.7" opacity="0.75">
<use href="#ar" transform="translate(361.2,71.8) rotate(138)"/>
<use href="#ar" transform="translate(361.2,86.0) rotate(136)"/>
<use href="#ar" transform="translate(372.3,86.0) rotate(135)"/>
<use href="#ar" transform="translate(383.3,86.0) rotate(136)"/>
<use href="#ar" transform="translate(394.3,86.0) rotate(137)"/>
<use href="#ar" transform="translate(295.2,100.2) rotate(121)"/>
<use href="#ar" transform="translate(361.2,100.2) rotate(136)"/>
<use href="#ar" transform="translate(372.3,100.2) rotate(135)"/>
<use href="#ar" transform="translate(383.3,100.2) rotate(136)"/>
<use href="#ar" transform="translate(394.3,100.2) rotate(137)"/>
<use href="#ar" transform="translate(273.2,114.5) rotate(117)"/>
<use href="#ar" transform="translate(284.2,114.5) rotate(114)"/>
<use href="#ar" transform="translate(295.2,114.5) rotate(120)"/>
<use href="#ar" transform="translate(306.2,114.5) rotate(121)"/>
<use href="#ar" transform="translate(317.2,114.5) rotate(129)"/>
<use href="#ar" transform="translate(383.3,114.5) rotate(135)"/>
<use href="#ar" transform="translate(394.3,114.5) rotate(133)"/>
<use href="#ar" transform="translate(405.3,114.5) rotate(133)"/>
<use href="#ar" transform="translate(416.3,114.5) rotate(134)"/>
<use href="#ar" transform="translate(196.1,128.8) rotate(160)"/>
<use href="#ar" transform="translate(207.1,128.8) rotate(158)"/>
<use href="#ar" transform="translate(218.1,128.8) rotate(156)"/>
<use href="#ar" transform="translate(229.1,128.8) rotate(154)"/>
<use href="#ar" transform="translate(240.1,128.8) rotate(152)"/>
<use href="#ar" transform="translate(251.1,128.8) rotate(148)"/>
<use href="#ar" transform="translate(262.2,128.8) rotate(135)"/>
<use href="#ar" transform="translate(273.2,128.8) rotate(116)"/>
<use href="#ar" transform="translate(284.2,128.8) rotate(111)"/>
<use href="#ar" transform="translate(295.2,128.8) rotate(117)"/>
<use href="#ar" transform="translate(306.2,128.8) rotate(134)"/>
<use href="#ar" transform="translate(317.2,128.8) rotate(141)"/>
<use href="#ar" transform="translate(383.3,128.8) rotate(133)"/>
<use href="#ar" transform="translate(394.3,128.8) rotate(130)"/>
<use href="#ar" transform="translate(405.3,128.8) rotate(131)"/>
<use href="#ar" transform="translate(416.3,128.8) rotate(132)"/>
<use href="#ar" transform="translate(427.3,128.8) rotate(131)"/>
<use href="#ar" transform="translate(438.3,128.8) rotate(131)"/>
<use href="#ar" transform="translate(196.1,143.0) rotate(162)"/>
<use href="#ar" transform="translate(207.1,143.0) rotate(160)"/>
<use href="#ar" transform="translate(218.1,143.0) rotate(158)"/>
<use href="#ar" transform="translate(229.1,143.0) rotate(156)"/>
<use href="#ar" transform="translate(240.1,143.0) rotate(155)"/>
<use href="#ar" transform="translate(251.1,143.0) rotate(155)"/>
<use href="#ar" transform="translate(262.2,143.0) rotate(151)"/>
<use href="#ar" transform="translate(273.2,143.0) rotate(136)"/>
<use href="#ar" transform="translate(284.2,143.0) rotate(128)"/>
<use href="#ar" transform="translate(306.2,143.0) rotate(143)"/>
<use href="#ar" transform="translate(317.2,143.0) rotate(141)"/>
<use href="#ar" transform="translate(328.2,143.0) rotate(156)"/>
<use href="#ar" transform="translate(394.3,143.0) rotate(134)"/>
<use href="#ar" transform="translate(405.3,143.0) rotate(133)"/>
<use href="#ar" transform="translate(416.3,143.0) rotate(131)"/>
<use href="#ar" transform="translate(427.3,143.0) rotate(128)"/>
<use href="#ar" transform="translate(438.3,143.0) rotate(129)"/>
<use href="#ar" transform="translate(449.3,143.0) rotate(130)"/>
<use href="#ar" transform="translate(460.3,143.0) rotate(130)"/>
<use href="#ar" transform="translate(196.1,157.2) rotate(164)"/>
<use href="#ar" transform="translate(207.1,157.2) rotate(162)"/>
<use href="#ar" transform="translate(218.1,157.2) rotate(160)"/>
<use href="#ar" transform="translate(229.1,157.2) rotate(157)"/>
<use href="#ar" transform="translate(240.1,157.2) rotate(155)"/>
<use href="#ar" transform="translate(251.1,157.2) rotate(155)"/>
<use href="#ar" transform="translate(262.2,157.2) rotate(155)"/>
<use href="#ar" transform="translate(273.2,157.2) rotate(154)"/>
<use href="#ar" transform="translate(284.2,157.2) rotate(157)"/>
<use href="#ar" transform="translate(306.2,157.2) rotate(-179)"/>
<use href="#ar" transform="translate(317.2,157.2) rotate(-166)"/>
<use href="#ar" transform="translate(328.2,157.2) rotate(-161)"/>
<use href="#ar" transform="translate(339.2,157.2) rotate(-130)"/>
<use href="#ar" transform="translate(427.3,157.2) rotate(128)"/>
<use href="#ar" transform="translate(438.3,157.2) rotate(129)"/>
<use href="#ar" transform="translate(449.3,157.2) rotate(128)"/>
<use href="#ar" transform="translate(460.3,157.2) rotate(125)"/>
<use href="#ar" transform="translate(471.3,157.2) rotate(123)"/>
<use href="#ar" transform="translate(174.1,171.5) rotate(165)"/>
<use href="#ar" transform="translate(185.1,171.5) rotate(165)"/>
<use href="#ar" transform="translate(196.1,171.5) rotate(165)"/>
<use href="#ar" transform="translate(207.1,171.5) rotate(163)"/>
<use href="#ar" transform="translate(218.1,171.5) rotate(161)"/>
<use href="#ar" transform="translate(229.1,171.5) rotate(160)"/>
<use href="#ar" transform="translate(240.1,171.5) rotate(159)"/>
<use href="#ar" transform="translate(251.1,171.5) rotate(158)"/>
<use href="#ar" transform="translate(262.2,171.5) rotate(160)"/>
<use href="#ar" transform="translate(273.2,171.5) rotate(166)"/>
<use href="#ar" transform="translate(284.2,171.5) rotate(177)"/>
<use href="#ar" transform="translate(295.2,171.5) rotate(-169)"/>
<use href="#ar" transform="translate(306.2,171.5) rotate(-158)"/>
<use href="#ar" transform="translate(317.2,171.5) rotate(-156)"/>
<use href="#ar" transform="translate(328.2,171.5) rotate(-148)"/>
<use href="#ar" transform="translate(339.2,171.5) rotate(-111)"/>
<use href="#ar" transform="translate(350.2,171.5) rotate(-106)"/>
<use href="#ar" transform="translate(361.2,171.5) rotate(-106)"/>
<use href="#ar" transform="translate(427.3,171.5) rotate(133)"/>
<use href="#ar" transform="translate(438.3,171.5) rotate(129)"/>
<use href="#ar" transform="translate(449.3,171.5) rotate(122)"/>
<use href="#ar" transform="translate(460.3,171.5) rotate(117)"/>
<use href="#ar" transform="translate(471.3,171.5) rotate(116)"/>
<use href="#ar" transform="translate(152.1,185.8) rotate(162)"/>
<use href="#ar" transform="translate(163.1,185.8) rotate(163)"/>
<use href="#ar" transform="translate(174.1,185.8) rotate(164)"/>
<use href="#ar" transform="translate(185.1,185.8) rotate(165)"/>
<use href="#ar" transform="translate(196.1,185.8) rotate(165)"/>
<use href="#ar" transform="translate(207.1,185.8) rotate(162)"/>
<use href="#ar" transform="translate(218.1,185.8) rotate(160)"/>
<use href="#ar" transform="translate(229.1,185.8) rotate(160)"/>
<use href="#ar" transform="translate(240.1,185.8) rotate(162)"/>
<use href="#ar" transform="translate(251.1,185.8) rotate(164)"/>
<use href="#ar" transform="translate(262.2,185.8) rotate(168)"/>
<use href="#ar" transform="translate(273.2,185.8) rotate(175)"/>
<use href="#ar" transform="translate(317.2,185.8) rotate(-136)"/>
<use href="#ar" transform="translate(328.2,185.8) rotate(-139)"/>
<use href="#ar" transform="translate(339.2,185.8) rotate(-127)"/>
<use href="#ar" transform="translate(350.2,185.8) rotate(-120)"/>
<use href="#ar" transform="translate(361.2,185.8) rotate(-141)"/>
<use href="#ar" transform="translate(372.3,185.8) rotate(176)"/>
<use href="#ar" transform="translate(383.3,185.8) rotate(157)"/>
<use href="#ar" transform="translate(460.3,185.8) rotate(114)"/>
<use href="#ar" transform="translate(471.3,185.8) rotate(114)"/>
<use href="#ar" transform="translate(559.4,185.8) rotate(113)"/>
<use href="#ar" transform="translate(570.4,185.8) rotate(111)"/>
<use href="#ar" transform="translate(581.4,185.8) rotate(109)"/>
<use href="#ar" transform="translate(592.5,185.8) rotate(107)"/>
<use href="#ar" transform="translate(141.1,200.0) rotate(161)"/>
<use href="#ar" transform="translate(152.1,200.0) rotate(161)"/>
<use href="#ar" transform="translate(163.1,200.0) rotate(161)"/>
<use href="#ar" transform="translate(174.1,200.0) rotate(163)"/>
<use href="#ar" transform="translate(185.1,200.0) rotate(164)"/>
<use href="#ar" transform="translate(196.1,200.0) rotate(164)"/>
<use href="#ar" transform="translate(207.1,200.0) rotate(162)"/>
<use href="#ar" transform="translate(218.1,200.0) rotate(161)"/>
<use href="#ar" transform="translate(229.1,200.0) rotate(161)"/>
<use href="#ar" transform="translate(240.1,200.0) rotate(164)"/>
<use href="#ar" transform="translate(251.1,200.0) rotate(168)"/>
<use href="#ar" transform="translate(262.2,200.0) rotate(173)"/>
<use href="#ar" transform="translate(273.2,200.0) rotate(177)"/>
<use href="#ar" transform="translate(284.2,200.0) rotate(-177)"/>
<use href="#ar" transform="translate(317.2,200.0) rotate(-160)"/>
<use href="#ar" transform="translate(328.2,200.0) rotate(-168)"/>
<use href="#ar" transform="translate(339.2,200.0) rotate(-170)"/>
<use href="#ar" transform="translate(350.2,200.0) rotate(-176)"/>
<use href="#ar" transform="translate(361.2,200.0) rotate(171)"/>
<use href="#ar" transform="translate(372.3,200.0) rotate(154)"/>
<use href="#ar" transform="translate(383.3,200.0) rotate(150)"/>
<use href="#ar" transform="translate(394.3,200.0) rotate(151)"/>
<use href="#ar" transform="translate(438.3,200.0) rotate(135)"/>
<use href="#ar" transform="translate(449.3,200.0) rotate(126)"/>
<use href="#ar" transform="translate(471.3,200.0) rotate(119)"/>
<use href="#ar" transform="translate(482.4,200.0) rotate(123)"/>
<use href="#ar" transform="translate(537.4,200.0) rotate(118)"/>
<use href="#ar" transform="translate(559.4,200.0) rotate(117)"/>
<use href="#ar" transform="translate(570.4,200.0) rotate(110)"/>
<use href="#ar" transform="translate(581.4,200.0) rotate(107)"/>
<use href="#ar" transform="translate(592.5,200.0) rotate(104)"/>
<use href="#ar" transform="translate(141.1,214.2) rotate(160)"/>
<use href="#ar" transform="translate(152.1,214.2) rotate(160)"/>
<use href="#ar" transform="translate(163.1,214.2) rotate(161)"/>
<use href="#ar" transform="translate(174.1,214.2) rotate(162)"/>
<use href="#ar" transform="translate(196.1,214.2) rotate(165)"/>
<use href="#ar" transform="translate(207.1,214.2) rotate(166)"/>
<use href="#ar" transform="translate(218.1,214.2) rotate(167)"/>
<use href="#ar" transform="translate(229.1,214.2) rotate(169)"/>
<use href="#ar" transform="translate(240.1,214.2) rotate(171)"/>
<use href="#ar" transform="translate(251.1,214.2) rotate(172)"/>
<use href="#ar" transform="translate(262.2,214.2) rotate(174)"/>
<use href="#ar" transform="translate(273.2,214.2) rotate(176)"/>
<use href="#ar" transform="translate(284.2,214.2) rotate(179)"/>
<use href="#ar" transform="translate(317.2,214.2) rotate(-174)"/>
<use href="#ar" transform="translate(328.2,214.2) rotate(-175)"/>
<use href="#ar" transform="translate(339.2,214.2) rotate(165)"/>
<use href="#ar" transform="translate(350.2,214.2) rotate(158)"/>
<use href="#ar" transform="translate(361.2,214.2) rotate(150)"/>
<use href="#ar" transform="translate(372.3,214.2) rotate(143)"/>
<use href="#ar" transform="translate(383.3,214.2) rotate(148)"/>
<use href="#ar" transform="translate(394.3,214.2) rotate(150)"/>
<use href="#ar" transform="translate(405.3,214.2) rotate(150)"/>
<use href="#ar" transform="translate(416.3,214.2) rotate(150)"/>
<use href="#ar" transform="translate(438.3,214.2) rotate(139)"/>
<use href="#ar" transform="translate(449.3,214.2) rotate(134)"/>
<use href="#ar" transform="translate(460.3,214.2) rotate(130)"/>
<use href="#ar" transform="translate(471.3,214.2) rotate(128)"/>
<use href="#ar" transform="translate(482.4,214.2) rotate(129)"/>
<use href="#ar" transform="translate(548.4,214.2) rotate(118)"/>
<use href="#ar" transform="translate(559.4,214.2) rotate(116)"/>
<use href="#ar" transform="translate(570.4,214.2) rotate(107)"/>
<use href="#ar" transform="translate(581.4,214.2) rotate(100)"/>
<use href="#ar" transform="translate(592.5,214.2) rotate(100)"/>
<use href="#ar" transform="translate(603.5,214.2) rotate(101)"/>
<use href="#ar" transform="translate(141.1,228.5) rotate(161)"/>
<use href="#ar" transform="translate(152.1,228.5) rotate(161)"/>
<use href="#ar" transform="translate(163.1,228.5) rotate(162)"/>
<use href="#ar" transform="translate(174.1,228.5) rotate(164)"/>
<use href="#ar" transform="translate(185.1,228.5) rotate(165)"/>
<use href="#ar" transform="translate(196.1,228.5) rotate(168)"/>
<use href="#ar" transform="translate(207.1,228.5) rotate(171)"/>
<use href="#ar" transform="translate(218.1,228.5) rotate(175)"/>
<use href="#ar" transform="translate(229.1,228.5) rotate(177)"/>
<use href="#ar" transform="translate(240.1,228.5) rotate(176)"/>
<use href="#ar" transform="translate(251.1,228.5) rotate(174)"/>
<use href="#ar" transform="translate(262.2,228.5) rotate(175)"/>
<use href="#ar" transform="translate(273.2,228.5) rotate(175)"/>
<use href="#ar" transform="translate(284.2,228.5) rotate(175)"/>
<use href="#ar" transform="translate(295.2,228.5) rotate(179)"/>
<use href="#ar" transform="translate(306.2,228.5) rotate(-176)"/>
<use href="#ar" transform="translate(317.2,228.5) rotate(-176)"/>
<use href="#ar" transform="translate(328.2,228.5) rotate(175)"/>
<use href="#ar" transform="translate(339.2,228.5) rotate(160)"/>
<use href="#ar" transform="translate(350.2,228.5) rotate(155)"/>
<use href="#ar" transform="translate(361.2,228.5) rotate(136)"/>
<use href="#ar" transform="translate(372.3,228.5) rotate(131)"/>
<use href="#ar" transform="translate(383.3,228.5) rotate(141)"/>
<use href="#ar" transform="translate(394.3,228.5) rotate(150)"/>
<use href="#ar" transform="translate(405.3,228.5) rotate(150)"/>
<use href="#ar" transform="translate(416.3,228.5) rotate(150)"/>
<use href="#ar" transform="translate(438.3,228.5) rotate(137)"/>
<use href="#ar" transform="translate(449.3,228.5) rotate(135)"/>
<use href="#ar" transform="translate(460.3,228.5) rotate(130)"/>
<use href="#ar" transform="translate(471.3,228.5) rotate(125)"/>
<use href="#ar" transform="translate(482.4,228.5) rotate(129)"/>
<use href="#ar" transform="translate(493.4,228.5) rotate(145)"/>
<use href="#ar" transform="translate(537.4,228.5) rotate(121)"/>
<use href="#ar" transform="translate(548.4,228.5) rotate(113)"/>
<use href="#ar" transform="translate(559.4,228.5) rotate(105)"/>
<use href="#ar" transform="translate(570.4,228.5) rotate(99)"/>
<use href="#ar" transform="translate(581.4,228.5) rotate(99)"/>
<use href="#ar" transform="translate(592.5,228.5) rotate(99)"/>
<use href="#ar" transform="translate(603.5,228.5) rotate(98)"/>
<use href="#ar" transform="translate(130.0,242.8) rotate(162)"/>
<use href="#ar" transform="translate(141.1,242.8) rotate(164)"/>
<use href="#ar" transform="translate(152.1,242.8) rotate(165)"/>
<use href="#ar" transform="translate(163.1,242.8) rotate(165)"/>
<use href="#ar" transform="translate(174.1,242.8) rotate(165)"/>
<use href="#ar" transform="translate(185.1,242.8) rotate(166)"/>
<use href="#ar" transform="translate(196.1,242.8) rotate(169)"/>
<use href="#ar" transform="translate(207.1,242.8) rotate(172)"/>
<use href="#ar" transform="translate(218.1,242.8) rotate(175)"/>
<use href="#ar" transform="translate(229.1,242.8) rotate(178)"/>
<use href="#ar" transform="translate(240.1,242.8) rotate(176)"/>
<use href="#ar" transform="translate(251.1,242.8) rotate(174)"/>
<use href="#ar" transform="translate(262.2,242.8) rotate(174)"/>
<use href="#ar" transform="translate(273.2,242.8) rotate(175)"/>
<use href="#ar" transform="translate(284.2,242.8) rotate(175)"/>
<use href="#ar" transform="translate(295.2,242.8) rotate(175)"/>
<use href="#ar" transform="translate(306.2,242.8) rotate(173)"/>
<use href="#ar" transform="translate(317.2,242.8) rotate(174)"/>
<use href="#ar" transform="translate(328.2,242.8) rotate(173)"/>
<use href="#ar" transform="translate(339.2,242.8) rotate(167)"/>
<use href="#ar" transform="translate(350.2,242.8) rotate(159)"/>
<use href="#ar" transform="translate(361.2,242.8) rotate(147)"/>
<use href="#ar" transform="translate(372.3,242.8) rotate(141)"/>
<use href="#ar" transform="translate(383.3,242.8) rotate(147)"/>
<use href="#ar" transform="translate(394.3,242.8) rotate(152)"/>
<use href="#ar" transform="translate(405.3,242.8) rotate(153)"/>
<use href="#ar" transform="translate(427.3,242.8) rotate(148)"/>
<use href="#ar" transform="translate(438.3,242.8) rotate(139)"/>
<use href="#ar" transform="translate(449.3,242.8) rotate(136)"/>
<use href="#ar" transform="translate(460.3,242.8) rotate(135)"/>
<use href="#ar" transform="translate(471.3,242.8) rotate(134)"/>
<use href="#ar" transform="translate(482.4,242.8) rotate(173)"/>
<use href="#ar" transform="translate(493.4,242.8) rotate(-117)"/>
<use href="#ar" transform="translate(504.4,242.8) rotate(-121)"/>
<use href="#ar" transform="translate(515.4,242.8) rotate(-141)"/>
<use href="#ar" transform="translate(526.4,242.8) rotate(-161)"/>
<use href="#ar" transform="translate(559.4,242.8) rotate(101)"/>
<use href="#ar" transform="translate(570.4,242.8) rotate(96)"/>
<use href="#ar" transform="translate(581.4,242.8) rotate(96)"/>
<use href="#ar" transform="translate(592.5,242.8) rotate(97)"/>
<use href="#ar" transform="translate(130.0,257.0) rotate(162)"/>
<use href="#ar" transform="translate(141.1,257.0) rotate(164)"/>
<use href="#ar" transform="translate(152.1,257.0) rotate(165)"/>
<use href="#ar" transform="translate(163.1,257.0) rotate(165)"/>
<use href="#ar" transform="translate(174.1,257.0) rotate(165)"/>
<use href="#ar" transform="translate(185.1,257.0) rotate(166)"/>
<use href="#ar" transform="translate(196.1,257.0) rotate(168)"/>
<use href="#ar" transform="translate(207.1,257.0) rotate(169)"/>
<use href="#ar" transform="translate(218.1,257.0) rotate(168)"/>
<use href="#ar" transform="translate(229.1,257.0) rotate(166)"/>
<use href="#ar" transform="translate(240.1,257.0) rotate(168)"/>
<use href="#ar" transform="translate(251.1,257.0) rotate(171)"/>
<use href="#ar" transform="translate(262.2,257.0) rotate(173)"/>
<use href="#ar" transform="translate(273.2,257.0) rotate(174)"/>
<use href="#ar" transform="translate(284.2,257.0) rotate(174)"/>
<use href="#ar" transform="translate(295.2,257.0) rotate(172)"/>
<use href="#ar" transform="translate(306.2,257.0) rotate(170)"/>
<use href="#ar" transform="translate(317.2,257.0) rotate(171)"/>
<use href="#ar" transform="translate(328.2,257.0) rotate(173)"/>
<use href="#ar" transform="translate(339.2,257.0) rotate(174)"/>
<use href="#ar" transform="translate(350.2,257.0) rotate(172)"/>
<use href="#ar" transform="translate(405.3,257.0) rotate(157)"/>
<use href="#ar" transform="translate(416.3,257.0) rotate(153)"/>
<use href="#ar" transform="translate(427.3,257.0) rotate(153)"/>
<use href="#ar" transform="translate(438.3,257.0) rotate(153)"/>
<use href="#ar" transform="translate(449.3,257.0) rotate(152)"/>
<use href="#ar" transform="translate(460.3,257.0) rotate(161)"/>
<use href="#ar" transform="translate(471.3,257.0) rotate(-136)"/>
<use href="#ar" transform="translate(482.4,257.0) rotate(-93)"/>
<use href="#ar" transform="translate(493.4,257.0) rotate(-91)"/>
<use href="#ar" transform="translate(504.4,257.0) rotate(-99)"/>
<use href="#ar" transform="translate(548.4,257.0) rotate(156)"/>
<use href="#ar" transform="translate(570.4,257.0) rotate(101)"/>
<use href="#ar" transform="translate(581.4,257.0) rotate(99)"/>
<use href="#ar" transform="translate(592.5,257.0) rotate(99)"/>
<use href="#ar" transform="translate(603.5,257.0) rotate(92)"/>
<use href="#ar" transform="translate(108.0,271.2) rotate(156)"/>
<use href="#ar" transform="translate(119.0,271.2) rotate(157)"/>
<use href="#ar" transform="translate(130.0,271.2) rotate(160)"/>
<use href="#ar" transform="translate(141.1,271.2) rotate(163)"/>
<use href="#ar" transform="translate(152.1,271.2) rotate(164)"/>
<use href="#ar" transform="translate(163.1,271.2) rotate(165)"/>
<use href="#ar" transform="translate(174.1,271.2) rotate(165)"/>
<use href="#ar" transform="translate(185.1,271.2) rotate(166)"/>
<use href="#ar" transform="translate(196.1,271.2) rotate(168)"/>
<use href="#ar" transform="translate(207.1,271.2) rotate(168)"/>
<use href="#ar" transform="translate(218.1,271.2) rotate(166)"/>
<use href="#ar" transform="translate(229.1,271.2) rotate(166)"/>
<use href="#ar" transform="translate(240.1,271.2) rotate(166)"/>
<use href="#ar" transform="translate(251.1,271.2) rotate(169)"/>
<use href="#ar" transform="translate(262.2,271.2) rotate(172)"/>
<use href="#ar" transform="translate(273.2,271.2) rotate(174)"/>
<use href="#ar" transform="translate(284.2,271.2) rotate(174)"/>
<use href="#ar" transform="translate(295.2,271.2) rotate(173)"/>
<use href="#ar" transform="translate(317.2,271.2) rotate(173)"/>
<use href="#ar" transform="translate(328.2,271.2) rotate(176)"/>
<use href="#ar" transform="translate(339.2,271.2) rotate(175)"/>
<use href="#ar" transform="translate(350.2,271.2) rotate(175)"/>
<use href="#ar" transform="translate(361.2,271.2) rotate(179)"/>
<use href="#ar" transform="translate(372.3,271.2) rotate(-175)"/>
<use href="#ar" transform="translate(405.3,271.2) rotate(161)"/>
<use href="#ar" transform="translate(416.3,271.2) rotate(151)"/>
<use href="#ar" transform="translate(427.3,271.2) rotate(152)"/>
<use href="#ar" transform="translate(438.3,271.2) rotate(163)"/>
<use href="#ar" transform="translate(449.3,271.2) rotate(-175)"/>
<use href="#ar" transform="translate(460.3,271.2) rotate(-151)"/>
<use href="#ar" transform="translate(471.3,271.2) rotate(-121)"/>
<use href="#ar" transform="translate(482.4,271.2) rotate(-99)"/>
<use href="#ar" transform="translate(493.4,271.2) rotate(-95)"/>
<use href="#ar" transform="translate(504.4,271.2) rotate(-104)"/>
<use href="#ar" transform="translate(515.4,271.2) rotate(-114)"/>
<use href="#ar" transform="translate(548.4,271.2) rotate(154)"/>
<use href="#ar" transform="translate(559.4,271.2) rotate(120)"/>
<use href="#ar" transform="translate(570.4,271.2) rotate(111)"/>
<use href="#ar" transform="translate(581.4,271.2) rotate(100)"/>
<use href="#ar" transform="translate(592.5,271.2) rotate(98)"/>
<use href="#ar" transform="translate(603.5,271.2) rotate(74)"/>
<use href="#ar" transform="translate(614.5,271.2) rotate(64)"/>
<use href="#ar" transform="translate(53.0,285.5) rotate(150)"/>
<use href="#ar" transform="translate(64.0,285.5) rotate(150)"/>
<use href="#ar" transform="translate(75.0,285.5) rotate(152)"/>
<use href="#ar" transform="translate(86.0,285.5) rotate(154)"/>
<use href="#ar" transform="translate(97.0,285.5) rotate(155)"/>
<use href="#ar" transform="translate(108.0,285.5) rotate(155)"/>
<use href="#ar" transform="translate(119.0,285.5) rotate(156)"/>
<use href="#ar" transform="translate(130.0,285.5) rotate(158)"/>
<use href="#ar" transform="translate(141.1,285.5) rotate(161)"/>
<use href="#ar" transform="translate(152.1,285.5) rotate(163)"/>
<use href="#ar" transform="translate(328.2,285.5) rotate(-178)"/>
<use href="#ar" transform="translate(339.2,285.5) rotate(179)"/>
<use href="#ar" transform="translate(350.2,285.5) rotate(-179)"/>
<use href="#ar" transform="translate(361.2,285.5) rotate(-164)"/>
<use href="#ar" transform="translate(372.3,285.5) rotate(-154)"/>
<use href="#ar" transform="translate(383.3,285.5) rotate(-155)"/>
<use href="#ar" transform="translate(394.3,285.5) rotate(-155)"/>
<use href="#ar" transform="translate(405.3,285.5) rotate(-162)"/>
<use href="#ar" transform="translate(416.3,285.5) rotate(174)"/>
<use href="#ar" transform="translate(427.3,285.5) rotate(172)"/>
<use href="#ar" transform="translate(438.3,285.5) rotate(-166)"/>
<use href="#ar" transform="translate(449.3,285.5) rotate(-139)"/>
<use href="#ar" transform="translate(460.3,285.5) rotate(-130)"/>
<use href="#ar" transform="translate(471.3,285.5) rotate(-126)"/>
<use href="#ar" transform="translate(482.4,285.5) rotate(-114)"/>
<use href="#ar" transform="translate(493.4,285.5) rotate(-105)"/>
<use href="#ar" transform="translate(504.4,285.5) rotate(-105)"/>
<use href="#ar" transform="translate(515.4,285.5) rotate(-117)"/>
<use href="#ar" transform="translate(526.4,285.5) rotate(-134)"/>
<use href="#ar" transform="translate(537.4,285.5) rotate(170)"/>
<use href="#ar" transform="translate(548.4,285.5) rotate(129)"/>
<use href="#ar" transform="translate(559.4,285.5) rotate(120)"/>
<use href="#ar" transform="translate(570.4,285.5) rotate(118)"/>
<use href="#ar" transform="translate(581.4,285.5) rotate(106)"/>
<use href="#ar" transform="translate(592.5,285.5) rotate(90)"/>
<use href="#ar" transform="translate(603.5,285.5) rotate(70)"/>
<use href="#ar" transform="translate(614.5,285.5) rotate(62)"/>
<use href="#ar" transform="translate(625.5,285.5) rotate(56)"/>
<use href="#ar" transform="translate(636.5,285.5) rotate(47)"/>
<use href="#ar" transform="translate(647.5,285.5) rotate(34)"/>
<use href="#ar" transform="translate(680.5,285.5) rotate(-35)"/>
<use href="#ar" transform="translate(691.5,285.5) rotate(-39)"/>
<use href="#ar" transform="translate(746.6,285.5) rotate(-14)"/>
<use href="#ar" transform="translate(757.6,285.5) rotate(-13)"/>
<use href="#ar" transform="translate(768.6,285.5) rotate(-10)"/>
<use href="#ar" transform="translate(42.0,299.8) rotate(150)"/>
<use href="#ar" transform="translate(53.0,299.8) rotate(150)"/>
<use href="#ar" transform="translate(64.0,299.8) rotate(150)"/>
<use href="#ar" transform="translate(75.0,299.8) rotate(151)"/>
<use href="#ar" transform="translate(86.0,299.8) rotate(154)"/>
<use href="#ar" transform="translate(97.0,299.8) rotate(155)"/>
<use href="#ar" transform="translate(108.0,299.8) rotate(155)"/>
<use href="#ar" transform="translate(119.0,299.8) rotate(156)"/>
<use href="#ar" transform="translate(130.0,299.8) rotate(157)"/>
<use href="#ar" transform="translate(328.2,299.8) rotate(-165)"/>
<use href="#ar" transform="translate(339.2,299.8) rotate(-162)"/>
<use href="#ar" transform="translate(350.2,299.8) rotate(-161)"/>
<use href="#ar" transform="translate(361.2,299.8) rotate(-148)"/>
<use href="#ar" transform="translate(372.3,299.8) rotate(-145)"/>
<use href="#ar" transform="translate(383.3,299.8) rotate(-148)"/>
<use href="#ar" transform="translate(394.3,299.8) rotate(-146)"/>
<use href="#ar" transform="translate(405.3,299.8) rotate(-146)"/>
<use href="#ar" transform="translate(416.3,299.8) rotate(-150)"/>
<use href="#ar" transform="translate(427.3,299.8) rotate(-147)"/>
<use href="#ar" transform="translate(438.3,299.8) rotate(-139)"/>
<use href="#ar" transform="translate(449.3,299.8) rotate(-128)"/>
<use href="#ar" transform="translate(460.3,299.8) rotate(-125)"/>
<use href="#ar" transform="translate(471.3,299.8) rotate(-125)"/>
<use href="#ar" transform="translate(482.4,299.8) rotate(-114)"/>
<use href="#ar" transform="translate(493.4,299.8) rotate(-100)"/>
<use href="#ar" transform="translate(504.4,299.8) rotate(-99)"/>
<use href="#ar" transform="translate(515.4,299.8) rotate(-111)"/>
<use href="#ar" transform="translate(526.4,299.8) rotate(-167)"/>
<use href="#ar" transform="translate(537.4,299.8) rotate(141)"/>
<use href="#ar" transform="translate(548.4,299.8) rotate(139)"/>
<use href="#ar" transform="translate(559.4,299.8) rotate(122)"/>
<use href="#ar" transform="translate(570.4,299.8) rotate(120)"/>
<use href="#ar" transform="translate(581.4,299.8) rotate(112)"/>
<use href="#ar" transform="translate(592.5,299.8) rotate(99)"/>
<use href="#ar" transform="translate(603.5,299.8) rotate(98)"/>
<use href="#ar" transform="translate(614.5,299.8) rotate(72)"/>
<use href="#ar" transform="translate(625.5,299.8) rotate(46)"/>
<use href="#ar" transform="translate(636.5,299.8) rotate(43)"/>
<use href="#ar" transform="translate(647.5,299.8) rotate(16)"/>
<use href="#ar" transform="translate(658.5,299.8) rotate(11)"/>
<use href="#ar" transform="translate(669.5,299.8) rotate(1)"/>
<use href="#ar" transform="translate(680.5,299.8) rotate(-20)"/>
<use href="#ar" transform="translate(691.5,299.8) rotate(-16)"/>
<use href="#ar" transform="translate(702.6,299.8) rotate(-11)"/>
<use href="#ar" transform="translate(713.6,299.8) rotate(-11)"/>
<use href="#ar" transform="translate(724.6,299.8) rotate(-11)"/>
<use href="#ar" transform="translate(735.6,299.8) rotate(-14)"/>
<use href="#ar" transform="translate(746.6,299.8) rotate(-15)"/>
<use href="#ar" transform="translate(757.6,299.8) rotate(-13)"/>
<use href="#ar" transform="translate(53.0,314.0) rotate(151)"/>
<use href="#ar" transform="translate(64.0,314.0) rotate(151)"/>
<use href="#ar" transform="translate(75.0,314.0) rotate(152)"/>
<use href="#ar" transform="translate(86.0,314.0) rotate(154)"/>
<use href="#ar" transform="translate(97.0,314.0) rotate(155)"/>
<use href="#ar" transform="translate(108.0,314.0) rotate(155)"/>
<use href="#ar" transform="translate(339.2,314.0) rotate(-160)"/>
<use href="#ar" transform="translate(350.2,314.0) rotate(-160)"/>
<use href="#ar" transform="translate(361.2,314.0) rotate(-155)"/>
<use href="#ar" transform="translate(372.3,314.0) rotate(-151)"/>
<use href="#ar" transform="translate(383.3,314.0) rotate(-151)"/>
<use href="#ar" transform="translate(394.3,314.0) rotate(-149)"/>
<use href="#ar" transform="translate(405.3,314.0) rotate(-147)"/>
<use href="#ar" transform="translate(416.3,314.0) rotate(-139)"/>
<use href="#ar" transform="translate(427.3,314.0) rotate(-131)"/>
<use href="#ar" transform="translate(438.3,314.0) rotate(-132)"/>
<use href="#ar" transform="translate(449.3,314.0) rotate(-132)"/>
<use href="#ar" transform="translate(460.3,314.0) rotate(-128)"/>
<use href="#ar" transform="translate(471.3,314.0) rotate(-127)"/>
<use href="#ar" transform="translate(482.4,314.0) rotate(-123)"/>
<use href="#ar" transform="translate(493.4,314.0) rotate(-113)"/>
<use href="#ar" transform="translate(504.4,314.0) rotate(-110)"/>
<use href="#ar" transform="translate(515.4,314.0) rotate(-111)"/>
<use href="#ar" transform="translate(526.4,314.0) rotate(-114)"/>
<use href="#ar" transform="translate(537.4,314.0) rotate(142)"/>
<use href="#ar" transform="translate(548.4,314.0) rotate(115)"/>
<use href="#ar" transform="translate(581.4,314.0) rotate(98)"/>
<use href="#ar" transform="translate(592.5,314.0) rotate(91)"/>
<use href="#ar" transform="translate(603.5,314.0) rotate(86)"/>
<use href="#ar" transform="translate(614.5,314.0) rotate(72)"/>
<use href="#ar" transform="translate(625.5,314.0) rotate(54)"/>
<use href="#ar" transform="translate(636.5,314.0) rotate(31)"/>
<use href="#ar" transform="translate(647.5,314.0) rotate(7)"/>
<use href="#ar" transform="translate(658.5,314.0) rotate(9)"/>
<use href="#ar" transform="translate(669.5,314.0) rotate(14)"/>
<use href="#ar" transform="translate(680.5,314.0) rotate(4)"/>
<use href="#ar" transform="translate(691.5,314.0) rotate(-5)"/>
<use href="#ar" transform="translate(702.6,314.0) rotate(-6)"/>
<use href="#ar" transform="translate(713.6,314.0) rotate(-4)"/>
<use href="#ar" transform="translate(735.6,314.0) rotate(-7)"/>
<use href="#ar" transform="translate(746.6,314.0) rotate(-8)"/>
<use href="#ar" transform="translate(757.6,314.0) rotate(-6)"/>
<use href="#ar" transform="translate(328.2,328.2) rotate(-165)"/>
<use href="#ar" transform="translate(339.2,328.2) rotate(-165)"/>
<use href="#ar" transform="translate(350.2,328.2) rotate(-167)"/>
<use href="#ar" transform="translate(361.2,328.2) rotate(-168)"/>
<use href="#ar" transform="translate(372.3,328.2) rotate(-166)"/>
<use href="#ar" transform="translate(383.3,328.2) rotate(-162)"/>
<use href="#ar" transform="translate(394.3,328.2) rotate(-158)"/>
<use href="#ar" transform="translate(405.3,328.2) rotate(-152)"/>
<use href="#ar" transform="translate(416.3,328.2) rotate(-139)"/>
<use href="#ar" transform="translate(427.3,328.2) rotate(-132)"/>
<use href="#ar" transform="translate(438.3,328.2) rotate(-133)"/>
<use href="#ar" transform="translate(449.3,328.2) rotate(-138)"/>
<use href="#ar" transform="translate(460.3,328.2) rotate(-135)"/>
<use href="#ar" transform="translate(471.3,328.2) rotate(-127)"/>
<use href="#ar" transform="translate(482.4,328.2) rotate(-125)"/>
<use href="#ar" transform="translate(493.4,328.2) rotate(-126)"/>
<use href="#ar" transform="translate(504.4,328.2) rotate(-125)"/>
<use href="#ar" transform="translate(515.4,328.2) rotate(-114)"/>
<use href="#ar" transform="translate(526.4,328.2) rotate(-102)"/>
<use href="#ar" transform="translate(537.4,328.2) rotate(45)"/>
<use href="#ar" transform="translate(548.4,328.2) rotate(46)"/>
<use href="#ar" transform="translate(559.4,328.2) rotate(39)"/>
<use href="#ar" transform="translate(570.4,328.2) rotate(50)"/>
<use href="#ar" transform="translate(581.4,328.2) rotate(67)"/>
<use href="#ar" transform="translate(592.5,328.2) rotate(74)"/>
<use href="#ar" transform="translate(603.5,328.2) rotate(75)"/>
<use href="#ar" transform="translate(614.5,328.2) rotate(75)"/>
<use href="#ar" transform="translate(625.5,328.2) rotate(70)"/>
<use href="#ar" transform="translate(636.5,328.2) rotate(47)"/>
<use href="#ar" transform="translate(647.5,328.2) rotate(32)"/>
<use href="#ar" transform="translate(658.5,328.2) rotate(34)"/>
<use href="#ar" transform="translate(669.5,328.2) rotate(32)"/>
<use href="#ar" transform="translate(680.5,328.2) rotate(21)"/>
<use href="#ar" transform="translate(691.5,328.2) rotate(13)"/>
<use href="#ar" transform="translate(702.6,328.2) rotate(11)"/>
<use href="#ar" transform="translate(724.6,328.2) rotate(7)"/>
<use href="#ar" transform="translate(735.6,328.2) rotate(5)"/>
<use href="#ar" transform="translate(746.6,328.2) rotate(4)"/>
<use href="#ar" transform="translate(757.6,328.2) rotate(4)"/>
<use href="#ar" transform="translate(317.2,342.5) rotate(-172)"/>
<use href="#ar" transform="translate(328.2,342.5) rotate(-172)"/>
<use href="#ar" transform="translate(339.2,342.5) rotate(-174)"/>
<use href="#ar" transform="translate(350.2,342.5) rotate(-178)"/>
<use href="#ar" transform="translate(361.2,342.5) rotate(-179)"/>
<use href="#ar" transform="translate(372.3,342.5) rotate(-177)"/>
<use href="#ar" transform="translate(383.3,342.5) rotate(-172)"/>
<use href="#ar" transform="translate(394.3,342.5) rotate(-171)"/>
<use href="#ar" transform="translate(405.3,342.5) rotate(-168)"/>
<use href="#ar" transform="translate(416.3,342.5) rotate(-159)"/>
<use href="#ar" transform="translate(427.3,342.5) rotate(-148)"/>
<use href="#ar" transform="translate(438.3,342.5) rotate(-146)"/>
<use href="#ar" transform="translate(449.3,342.5) rotate(-145)"/>
<use href="#ar" transform="translate(460.3,342.5) rotate(-144)"/>
<use href="#ar" transform="translate(471.3,342.5) rotate(-138)"/>
<use href="#ar" transform="translate(482.4,342.5) rotate(-131)"/>
<use href="#ar" transform="translate(493.4,342.5) rotate(-131)"/>
<use href="#ar" transform="translate(504.4,342.5) rotate(-130)"/>
<use href="#ar" transform="translate(515.4,342.5) rotate(-128)"/>
<use href="#ar" transform="translate(526.4,342.5) rotate(37)"/>
<use href="#ar" transform="translate(537.4,342.5) rotate(44)"/>
<use href="#ar" transform="translate(548.4,342.5) rotate(43)"/>
<use href="#ar" transform="translate(559.4,342.5) rotate(40)"/>
<use href="#ar" transform="translate(570.4,342.5) rotate(55)"/>
<use href="#ar" transform="translate(581.4,342.5) rotate(61)"/>
<use href="#ar" transform="translate(592.5,342.5) rotate(68)"/>
<use href="#ar" transform="translate(603.5,342.5) rotate(72)"/>
<use href="#ar" transform="translate(614.5,342.5) rotate(73)"/>
<use href="#ar" transform="translate(625.5,342.5) rotate(68)"/>
<use href="#ar" transform="translate(636.5,342.5) rotate(54)"/>
<use href="#ar" transform="translate(647.5,342.5) rotate(41)"/>
<use href="#ar" transform="translate(658.5,342.5) rotate(40)"/>
<use href="#ar" transform="translate(669.5,342.5) rotate(37)"/>
<use href="#ar" transform="translate(680.5,342.5) rotate(26)"/>
<use href="#ar" transform="translate(691.5,342.5) rotate(14)"/>
<use href="#ar" transform="translate(702.6,342.5) rotate(12)"/>
<use href="#ar" transform="translate(713.6,342.5) rotate(13)"/>
<use href="#ar" transform="translate(724.6,342.5) rotate(11)"/>
<use href="#ar" transform="translate(735.6,342.5) rotate(7)"/>
<use href="#ar" transform="translate(746.6,342.5) rotate(5)"/>
<use href="#ar" transform="translate(757.6,342.5) rotate(5)"/>
<use href="#ar" transform="translate(339.2,356.8) rotate(-177)"/>
<use href="#ar" transform="translate(350.2,356.8) rotate(-179)"/>
<use href="#ar" transform="translate(361.2,356.8) rotate(-180)"/>
<use href="#ar" transform="translate(372.3,356.8) rotate(-178)"/>
<use href="#ar" transform="translate(383.3,356.8) rotate(-175)"/>
<use href="#ar" transform="translate(394.3,356.8) rotate(-175)"/>
<use href="#ar" transform="translate(405.3,356.8) rotate(-175)"/>
<use href="#ar" transform="translate(416.3,356.8) rotate(-173)"/>
<use href="#ar" transform="translate(427.3,356.8) rotate(-167)"/>
<use href="#ar" transform="translate(438.3,356.8) rotate(-158)"/>
<use href="#ar" transform="translate(449.3,356.8) rotate(-149)"/>
<use href="#ar" transform="translate(460.3,356.8) rotate(-146)"/>
<use href="#ar" transform="translate(471.3,356.8) rotate(-149)"/>
<use href="#ar" transform="translate(482.4,356.8) rotate(-153)"/>
<use href="#ar" transform="translate(493.4,356.8) rotate(-146)"/>
<use href="#ar" transform="translate(504.4,356.8) rotate(-137)"/>
<use href="#ar" transform="translate(515.4,356.8) rotate(-136)"/>
<use href="#ar" transform="translate(526.4,356.8) rotate(44)"/>
<use href="#ar" transform="translate(537.4,356.8) rotate(41)"/>
<use href="#ar" transform="translate(548.4,356.8) rotate(41)"/>
<use href="#ar" transform="translate(559.4,356.8) rotate(50)"/>
<use href="#ar" transform="translate(570.4,356.8) rotate(60)"/>
<use href="#ar" transform="translate(581.4,356.8) rotate(67)"/>
<use href="#ar" transform="translate(592.5,356.8) rotate(77)"/>
<use href="#ar" transform="translate(603.5,356.8) rotate(74)"/>
<use href="#ar" transform="translate(614.5,356.8) rotate(70)"/>
<use href="#ar" transform="translate(625.5,356.8) rotate(68)"/>
<use href="#ar" transform="translate(636.5,356.8) rotate(61)"/>
<use href="#ar" transform="translate(647.5,356.8) rotate(48)"/>
<use href="#ar" transform="translate(658.5,356.8) rotate(39)"/>
<use href="#ar" transform="translate(669.5,356.8) rotate(31)"/>
<use href="#ar" transform="translate(680.5,356.8) rotate(28)"/>
<use href="#ar" transform="translate(691.5,356.8) rotate(25)"/>
<use href="#ar" transform="translate(702.6,356.8) rotate(18)"/>
<use href="#ar" transform="translate(713.6,356.8) rotate(17)"/>
<use href="#ar" transform="translate(724.6,356.8) rotate(17)"/>
<use href="#ar" transform="translate(735.6,356.8) rotate(14)"/>
<use href="#ar" transform="translate(746.6,356.8) rotate(9)"/>
<use href="#ar" transform="translate(757.6,356.8) rotate(8)"/>
<use href="#ar" transform="translate(350.2,371.0) rotate(-178)"/>
<use href="#ar" transform="translate(361.2,371.0) rotate(-178)"/>
<use href="#ar" transform="translate(372.3,371.0) rotate(-177)"/>
<use href="#ar" transform="translate(383.3,371.0) rotate(-176)"/>
<use href="#ar" transform="translate(394.3,371.0) rotate(-175)"/>
<use href="#ar" transform="translate(405.3,371.0) rotate(-176)"/>
<use href="#ar" transform="translate(416.3,371.0) rotate(179)"/>
<use href="#ar" transform="translate(427.3,371.0) rotate(173)"/>
<use href="#ar" transform="translate(438.3,371.0) rotate(177)"/>
<use href="#ar" transform="translate(449.3,371.0) rotate(-172)"/>
<use href="#ar" transform="translate(460.3,371.0) rotate(-170)"/>
<use href="#ar" transform="translate(471.3,371.0) rotate(177)"/>
<use href="#ar" transform="translate(482.4,371.0) rotate(173)"/>
<use href="#ar" transform="translate(493.4,371.0) rotate(178)"/>
<use href="#ar" transform="translate(504.4,371.0) rotate(-174)"/>
<use href="#ar" transform="translate(515.4,371.0) rotate(160)"/>
<use href="#ar" transform="translate(526.4,371.0) rotate(56)"/>
<use href="#ar" transform="translate(537.4,371.0) rotate(47)"/>
<use href="#ar" transform="translate(548.4,371.0) rotate(47)"/>
<use href="#ar" transform="translate(559.4,371.0) rotate(56)"/>
<use href="#ar" transform="translate(570.4,371.0) rotate(67)"/>
<use href="#ar" transform="translate(581.4,371.0) rotate(77)"/>
<use href="#ar" transform="translate(592.5,371.0) rotate(79)"/>
<use href="#ar" transform="translate(603.5,371.0) rotate(76)"/>
<use href="#ar" transform="translate(614.5,371.0) rotate(70)"/>
<use href="#ar" transform="translate(625.5,371.0) rotate(70)"/>
<use href="#ar" transform="translate(636.5,371.0) rotate(66)"/>
<use href="#ar" transform="translate(647.5,371.0) rotate(59)"/>
<use href="#ar" transform="translate(658.5,371.0) rotate(46)"/>
<use href="#ar" transform="translate(669.5,371.0) rotate(33)"/>
<use href="#ar" transform="translate(680.5,371.0) rotate(29)"/>
<use href="#ar" transform="translate(691.5,371.0) rotate(28)"/>
<use href="#ar" transform="translate(702.6,371.0) rotate(25)"/>
<use href="#ar" transform="translate(713.6,371.0) rotate(24)"/>
<use href="#ar" transform="translate(724.6,371.0) rotate(26)"/>
<use href="#ar" transform="translate(735.6,371.0) rotate(29)"/>
<use href="#ar" transform="translate(746.6,371.0) rotate(28)"/>
<use href="#ar" transform="translate(405.3,385.2) rotate(175)"/>
<use href="#ar" transform="translate(416.3,385.2) rotate(165)"/>
<use href="#ar" transform="translate(427.3,385.2) rotate(160)"/>
<use href="#ar" transform="translate(438.3,385.2) rotate(161)"/>
<use href="#ar" transform="translate(449.3,385.2) rotate(165)"/>
<use href="#ar" transform="translate(460.3,385.2) rotate(167)"/>
<use href="#ar" transform="translate(471.3,385.2) rotate(170)"/>
<use href="#ar" transform="translate(482.4,385.2) rotate(170)"/>
<use href="#ar" transform="translate(493.4,385.2) rotate(171)"/>
<use href="#ar" transform="translate(548.4,385.2) rotate(61)"/>
<use href="#ar" transform="translate(559.4,385.2) rotate(66)"/>
<use href="#ar" transform="translate(570.4,385.2) rotate(72)"/>
<use href="#ar" transform="translate(581.4,385.2) rotate(78)"/>
<use href="#ar" transform="translate(592.5,385.2) rotate(83)"/>
<use href="#ar" transform="translate(603.5,385.2) rotate(84)"/>
<use href="#ar" transform="translate(614.5,385.2) rotate(76)"/>
<use href="#ar" transform="translate(625.5,385.2) rotate(69)"/>
<use href="#ar" transform="translate(636.5,385.2) rotate(65)"/>
<use href="#ar" transform="translate(647.5,385.2) rotate(64)"/>
<use href="#ar" transform="translate(658.5,385.2) rotate(58)"/>
<use href="#ar" transform="translate(669.5,385.2) rotate(44)"/>
<use href="#ar" transform="translate(680.5,385.2) rotate(36)"/>
<use href="#ar" transform="translate(691.5,385.2) rotate(32)"/>
<use href="#ar" transform="translate(702.6,385.2) rotate(29)"/>
<use href="#ar" transform="translate(713.6,385.2) rotate(28)"/>
<use href="#ar" transform="translate(724.6,385.2) rotate(29)"/>
<use href="#ar" transform="translate(735.6,385.2) rotate(30)"/>
<use href="#ar" transform="translate(746.6,385.2) rotate(30)"/>
<use href="#ar" transform="translate(416.3,399.5) rotate(163)"/>
<use href="#ar" transform="translate(427.3,399.5) rotate(160)"/>
<use href="#ar" transform="translate(438.3,399.5) rotate(159)"/>
<use href="#ar" transform="translate(449.3,399.5) rotate(149)"/>
<use href="#ar" transform="translate(460.3,399.5) rotate(144)"/>
<use href="#ar" transform="translate(471.3,399.5) rotate(151)"/>
<use href="#ar" transform="translate(482.4,399.5) rotate(162)"/>
<use href="#ar" transform="translate(581.4,399.5) rotate(80)"/>
<use href="#ar" transform="translate(592.5,399.5) rotate(83)"/>
<use href="#ar" transform="translate(603.5,399.5) rotate(83)"/>
<use href="#ar" transform="translate(614.5,399.5) rotate(78)"/>
<use href="#ar" transform="translate(625.5,399.5) rotate(68)"/>
<use href="#ar" transform="translate(636.5,399.5) rotate(65)"/>
<use href="#ar" transform="translate(647.5,399.5) rotate(64)"/>
<use href="#ar" transform="translate(658.5,399.5) rotate(61)"/>
<use href="#ar" transform="translate(669.5,399.5) rotate(52)"/>
<use href="#ar" transform="translate(680.5,399.5) rotate(44)"/>
<use href="#ar" transform="translate(691.5,399.5) rotate(38)"/>
<use href="#ar" transform="translate(702.6,399.5) rotate(33)"/>
<use href="#ar" transform="translate(713.6,399.5) rotate(30)"/>
<use href="#ar" transform="translate(724.6,399.5) rotate(29)"/>
<use href="#ar" transform="translate(735.6,399.5) rotate(29)"/>
<use href="#ar" transform="translate(438.3,413.8) rotate(152)"/>
<use href="#ar" transform="translate(449.3,413.8) rotate(143)"/>
<use href="#ar" transform="translate(460.3,413.8) rotate(140)"/>
<use href="#ar" transform="translate(471.3,413.8) rotate(143)"/>
<use href="#ar" transform="translate(482.4,413.8) rotate(150)"/>
<use href="#ar" transform="translate(636.5,413.8) rotate(66)"/>
<use href="#ar" transform="translate(647.5,413.8) rotate(64)"/>
<use href="#ar" transform="translate(658.5,413.8) rotate(60)"/>
<use href="#ar" transform="translate(713.6,413.8) rotate(33)"/>
<use href="#ar" transform="translate(724.6,413.8) rotate(31)"/>
<use href="#ar" transform="translate(471.3,428.0) rotate(145)"/>
<use href="#ar" transform="translate(482.4,428.0) rotate(148)"/>
</g>
</g>
<circle cx="59.4" cy="280.7" r="2.3" fill="#f00"/><text class="c" x="62.0" y="277.7">MALAGA</text>
<circle cx="119.8" cy="259.6" r="2.3" fill="#f00"/><text class="c" x="122.4" y="256.6">CARTAGENA</text>
<circle cx="130.3" cy="214.7" r="2.3" fill="#f00"/><text class="c" x="132.9" y="211.7">VALENCIA</text>
<circle cx="175.1" cy="168.9" r="2.3" fill="#f00"/><text class="c" x="177.7" y="165.9">BARCELONA</text>
<circle cx="231.3" cy="122.8" r="2.3" fill="#f00"/><text class="c" x="233.9" y="119.8">MARSEILLE</text>
<circle cx="267.3" cy="112.5" r="2.3" fill="#f00"/><text class="c" x="269.9" y="109.5">MONACO</text>
<circle cx="293.9" cy="96.2" r="2.3" fill="#f00"/><text class="c" x="296.5" y="93.2">GENOVA</text>
<circle cx="356.2" cy="156.4" r="2.3" fill="#f00"/><text class="c" x="358.8" y="153.4">ROMA</text>
<circle cx="387.7" cy="181.6" r="2.3" fill="#f00"/><text class="c" x="390.3" y="178.6">NAPOLI</text>
<circle cx="371.7" cy="247.1" r="2.3" fill="#f00"/><text class="c" x="374.3" y="244.1">PALERMO</text>
<circle cx="353.6" cy="71.4" r="2.3" fill="#f00"/><text class="c" x="356.2" y="68.4">VENEZIA</text>
<circle cx="378.9" cy="66.4" r="2.3" fill="#f00"/><text class="c" x="381.5" y="63.4">TRIESTE</text>
<circle cx="374.5" cy="115.1" r="2.3" fill="#f00"/><text class="c" x="377.1" y="112.1">ANCONA</text>
<circle cx="433.4" cy="175.1" r="2.3" fill="#f00"/><text class="c" x="436.0" y="172.1">BARI</text>
<circle cx="404.5" cy="103.1" r="2.3" fill="#f00"/><text class="c" x="407.1" y="100.1">ZADAR</text>
<circle cx="425.8" cy="117.8" r="2.3" fill="#f00"/><text class="c" x="428.4" y="114.8">SPLIT</text>
<circle cx="454.8" cy="138.4" r="2.3" fill="#f00"/><text class="c" x="457.4" y="135.4">DUBROVNIK</text>
<circle cx="478.7" cy="170.3" r="2.3" fill="#f00"/><text class="c" x="481.3" y="167.3">DURRES</text>
<circle cx="479.4" cy="190.7" r="2.3" fill="#f00"/><text class="c" x="482.0" y="187.7">VLORE</text>
<circle cx="540.0" cy="186.6" r="2.3" fill="#f00"/><text class="c" x="542.6" y="183.6">THESSALONIKI</text>
<circle cx="540.0" cy="217.4" r="2.3" fill="#f00"/><text class="c" x="542.6" y="214.4">VOLOS</text>
<circle cx="553.9" cy="250.5" r="2.3" fill="#f00"/><text class="c" x="556.5" y="247.5">ATHINA</text>
<circle cx="645.9" cy="177.8" r="2.3" fill="#f00"/><text class="c" x="648.5" y="174.8">ISTANBUL</text>
<circle cx="591.5" cy="181.6" r="2.3" fill="#f00"/><text class="c" x="594.1" y="178.6">ALEXANDROUPOLI</text>
<circle cx="611.7" cy="212.1" r="2.3" fill="#f00"/><text class="c" x="614.3" y="209.1">AKCAY</text>
<circle cx="613.8" cy="239.9" r="2.3" fill="#f00"/><text class="c" x="616.4" y="236.9">IZMIR</text>
<circle cx="618.9" cy="273.3" r="2.3" fill="#f00"/><text class="c" x="621.5" y="270.3">BODRUM</text>
<circle cx="676.3" cy="276.4" r="2.3" fill="#f00"/><text class="c" x="678.9" y="273.4">ANTALYA</text>
<circle cx="748.0" cy="392.1" r="2.3" fill="#f00"/><text class="c" x="750.6" y="389.1">TEL AVIV</text>
<circle cx="662.3" cy="413.2" r="2.3" fill="#f00"/><text class="c" x="664.9" y="410.2">ALEXANDRIA</text>
<circle cx="489.6" cy="391.1" r="2.3" fill="#f00"/><text class="c" x="492.2" y="388.1">BENGHAZI</text>
<circle cx="428.4" cy="413.2" r="2.3" fill="#f00"/><text class="c" x="431.0" y="410.2">SIRTE</text>
<circle cx="368.7" cy="372.6" r="2.3" fill="#f00"/><text class="c" x="371.3" y="369.6">TRIPOLI</text>
<circle cx="326.0" cy="328.2" r="2.3" fill="#f00"/><text class="c" x="328.6" y="325.2">SFAX</text>
<circle cx="273.5" cy="276.4" r="2.3" fill="#f00"/><text class="c" x="276.1" y="273.4">ANNABA</text>
<circle cx="299.2" cy="278.2" r="2.3" fill="#f00"/><text class="c" x="301.8" y="275.2">TUNIS</text>
<circle cx="190.8" cy="280.0" r="2.3" fill="#f00"/><text class="c" x="193.4" y="277.0">ALGIERS</text>
<circle cx="125.9" cy="305.2" r="2.3" fill="#f00"/><text class="c" x="128.5" y="302.2">ORAN</text>
<circle cx="85.5" cy="317.9" r="2.3" fill="#f00"/><text class="c" x="88.1" y="314.9">NADOR</text>
<rect x="32.5" y="58.5" width="736.1" height="383.3" fill="none" stroke="#000" stroke-width="1.1"/>
<text class="ax" x="137.0" y="50" text-anchor="middle">0°</text>
<text class="ax" x="137.0" y="458" text-anchor="middle">0°</text>
<text class="ax" x="312.7" y="50" text-anchor="middle">10°E</text>
<text class="ax" x="312.7" y="458" text-anchor="middle">10°E</text>
<text class="ax" x="488.3" y="50" text-anchor="middle">20°E</text>
<text class="ax" x="488.3" y="458" text-anchor="middle">20°E</text>
<text class="ax" x="664.0" y="50" text-anchor="middle">30°E</text>
<text class="ax" x="664.0" y="458" text-anchor="middle">30°E</text>
<text class="ax" x="0.8" y="398.0" textLength="23.2" lengthAdjust="spacingAndGlyphs">32°N</text>
<text class="ax" x="776.8" y="398.0" textLength="23.2" lengthAdjust="spacingAndGlyphs">32°N</text>
<text class="ax" x="0.8" y="350.0" textLength="23.2" lengthAdjust="spacingAndGlyphs">34°N</text>
<text class="ax" x="776.8" y="350.0" textLength="23.2" lengthAdjust="spacingAndGlyphs">34°N</text>
<text class="ax" x="0.8" y="302.0" textLength="23.2" lengthAdjust="spacingAndGlyphs">36°N</text>
<text class="ax" x="776.8" y="302.0" textLength="23.2" lengthAdjust="spacingAndGlyphs">36°N</text>
<text class="ax" x="0.8" y="254.0" textLength="23.2" lengthAdjust="spacingAndGlyphs">38°N</text>
<text class="ax" x="776.8" y="254.0" textLength="23.2" lengthAdjust="spacingAndGlyphs">38°N</text>
<text class="ax" x="0.8" y="206.0" textLength="23.2" lengthAdjust="spacingAndGlyphs">40°N</text>
<text class="ax" x="776.8" y="206.0" textLength="23.2" lengthAdjust="spacingAndGlyphs">40°N</text>
<text class="ax" x="0.8" y="158.0" textLength="23.2" lengthAdjust="spacingAndGlyphs">42°N</text>
<text class="ax" x="776.8" y="158.0" textLength="23.2" lengthAdjust="spacingAndGlyphs">42°N</text>
<text class="ax" x="0.8" y="110.0" textLength="23.2" lengthAdjust="spacingAndGlyphs">44°N</text>
<text class="ax" x="776.8" y="110.0" textLength="23.2" lengthAdjust="spacingAndGlyphs">44°N</text>
<text x="6" y="14" font-size="13" font-weight="bold" fill="#111">WW3-MED-5km</text>
<text x="794" y="14" font-size="13" font-weight="bold" fill="#111" text-anchor="end">Mediterranean-Sea</text>
<text x="6" y="34" font-size="13" font-weight="bold" fill="#1414c8" textLength="191" lengthAdjust="spacingAndGlyphs">Valid: THU, 30APR2026 21 UTC</text>
<text x="212" y="34" font-size="13" font-weight="bold" fill="#1414c8" textLength="50" lengthAdjust="spacingAndGlyphs">T=+21hr</text>
<text x="277" y="34" font-size="13" font-weight="bold" fill="#1414c8" textLength="106" lengthAdjust="spacingAndGlyphs">Init: THU, 00 UTC</text>
<text x="400" y="473" font-size="13" font-weight="bold" font-style="italic" fill="#111" text-anchor="middle" xml:space="preserve">Significant Wave Height [m]  +  Mean Wave Direction</text>
<rect x="58.40" y="499" width="45.75" height="26" fill="#a8f8a8" stroke="#000" stroke-width="1"/>
<rect x="104.15" y="499" width="45.75" height="26" fill="#00ffff" stroke="#000" stroke-width="1"/>
<rect x="149.90" y="499" width="45.75" height="26" fill="#00c8c8" stroke="#000" stroke-width="1"/>
<rect x="195.65" y="499" width="45.75" height="26" fill="#0090ff" stroke="#000" stroke-width="1"/>
<rect x="241.40" y="499" width="45.75" height="26" fill="#0000c8" stroke="#000" stroke-width="1"/>
<rect x="287.15" y="499" width="45.75" height="26" fill="#9000c8" stroke="#000" stroke-width="1"/>
<rect x="332.90" y="499" width="45.75" height="26" fill="#ff00ff" stroke="#000" stroke-width="1"/>
<rect x="378.65" y="499" width="45.75" height="26" fill="#ff0090" stroke="#000" stroke-width="1"/>
<rect x="424.40" y="499" width="45.75" height="26" fill="#ff0000" stroke="#000" stroke-width="1"/>
<rect x="470.15" y="499" width="45.75" height="26" fill="#c80000" stroke="#000" stroke-width="1"/>
<rect x="515.90" y="499" width="45.75" height="26" fill="#ff6400" stroke="#000" stroke-width="1"/>
<rect x="561.65" y="499" width="45.75" height="26" fill="#ffc800" stroke="#000" stroke-width="1"/>
<rect x="607.40" y="499" width="45.75" height="26" fill="#c8c8c8" stroke="#000" stroke-width="1"/>
<rect x="653.15" y="499" width="45.75" height="26" fill="#888888" stroke="#000" stroke-width="1"/>
<rect x="698.90" y="499" width="45.75" height="26" fill="#444444" stroke="#000" stroke-width="1"/>
<rect x="744.65" y="499" width="45.75" height="26" fill="#141414" stroke="#000" stroke-width="1"/>
<text class="mt" x="58.4" y="537" text-anchor="middle">0</text>
<text class="mt" x="104.2" y="537" text-anchor="middle">0.1</text>
<text class="ft" x="104.2" y="552" text-anchor="middle">0.3</text>
<text class="mt" x="149.9" y="537" text-anchor="middle">0.3</text>
<text class="ft" x="149.9" y="552" text-anchor="middle">1</text>
<text class="mt" x="195.7" y="537" text-anchor="middle">0.5</text>
<text class="ft" x="195.7" y="552" text-anchor="middle">1.6</text>
<text class="mt" x="241.4" y="537" text-anchor="middle">0.8</text>
<text class="ft" x="241.4" y="552" text-anchor="middle">2.6</text>
<text class="mt" x="287.1" y="537" text-anchor="middle">1.25</text>
<text class="ft" x="287.1" y="552" text-anchor="middle">4.1</text>
<text class="mt" x="332.9" y="537" text-anchor="middle">1.6</text>
<text class="ft" x="332.9" y="552" text-anchor="middle">5.2</text>
<text class="mt" x="378.6" y="537" text-anchor="middle">2</text>
<text class="ft" x="378.6" y="552" text-anchor="middle">6.6</text>
<text class="mt" x="424.4" y="537" text-anchor="middle">2.5</text>
<text class="ft" x="424.4" y="552" text-anchor="middle">8.2</text>
<text class="mt" x="470.1" y="537" text-anchor="middle">3</text>
<text class="ft" x="470.1" y="552" text-anchor="middle">9.8</text>
<text class="mt" x="515.9" y="537" text-anchor="middle">4</text>
<text class="ft" x="515.9" y="552" text-anchor="middle">13.1</text>
<text class="mt" x="561.6" y="537" text-anchor="middle">5</text>
<text class="ft" x="561.6" y="552" text-anchor="middle">16.4</text>
<text class="mt" x="607.4" y="537" text-anchor="middle">6</text>
<text class="ft" x="607.4" y="552" text-anchor="middle">19.7</text>
<text class="mt" x="653.1" y="537" text-anchor="middle">7</text>
<text class="ft" x="653.1" y="552" text-anchor="middle">23</text>
<text class="mt" x="698.9" y="537" text-anchor="middle">8</text>
<text class="ft" x="698.9" y="552" text-anchor="middle">26.2</text>
<text class="mt" x="744.6" y="537" text-anchor="middle">9</text>
<text class="ft" x="744.6" y="552" text-anchor="middle">29.6</text>
<text class="mt" x="790.4" y="537" text-anchor="middle">>9</text>
<text class="mt" x="2" y="536.3" textLength="33" lengthAdjust="spacingAndGlyphs">meters</text><text class="ft" x="2" y="551.5" textLength="18.4" lengthAdjust="spacingAndGlyphs">feet</text>
<text x="2.5" y="491" font-size="10" font-weight="bold" fill="#111">DOUGLAS</text><text x="2.5" y="501" font-size="10" font-weight="bold" fill="#111">SCALE</text>
<line x1="104.2" y1="495" x2="104.2" y2="499" stroke="#1414c8" stroke-width="1"/>
<line x1="195.7" y1="495" x2="195.7" y2="499" stroke="#1414c8" stroke-width="1"/>
<line x1="287.1" y1="495" x2="287.1" y2="499" stroke="#1414c8" stroke-width="1"/>
<line x1="424.4" y1="495" x2="424.4" y2="499" stroke="#1414c8" stroke-width="1"/>
<line x1="515.9" y1="495" x2="515.9" y2="499" stroke="#1414c8" stroke-width="1"/>
<line x1="607.4" y1="495" x2="607.4" y2="499" stroke="#1414c8" stroke-width="1"/>
<line x1="744.6" y1="495" x2="744.6" y2="499" stroke="#1414c8" stroke-width="1"/>
<line x1="790.4" y1="495" x2="790.4" y2="499" stroke="#1414c8" stroke-width="1"/>
<text class="d" x="80.8" y="495" text-anchor="middle">D1</text>
<text class="d" x="149.4" y="495" text-anchor="middle">D2</text>
<text class="d" x="241.0" y="495" text-anchor="middle">D3</text>
<text class="d" x="333.0" y="495" text-anchor="middle">D4</text>
<text class="d" x="446.5" y="495" text-anchor="middle">D5</text>
<text class="d" x="561.6" y="495" text-anchor="middle">D6</text>
<text class="d" x="676.0" y="495" text-anchor="middle">D7</text>
<text class="d" x="767.5" y="495" text-anchor="middle">D8</text>
<text x="58" y="565" font-size="11" fill="#999">Data source: ItaliaMeteo-ARPAE | WW3-MED-5km | License: CC BY 4.0</text>
<g><circle cx="48" cy="429.3" r="9.8" fill="none" stroke="#f0801a" stroke-width="3.6"/><path d="M44,419.5 A10.3,10.3 0 0 0 44.5,439.5" fill="none" stroke="#7cc4e4" stroke-width="3"/><path d="M41,424 A8.6,8.6 0 0 0 46,437.6" fill="none" stroke="#2a9aa8" stroke-width="1.6"/><path d="M50,418.6 A10.8,10.8 0 0 1 58.6,431" fill="none" stroke="#f4a21e" stroke-width="2"/>
<text x="62.5" y="434" font-size="17" fill="#4a8fd8" textLength="35.5" lengthAdjust="spacingAndGlyphs">centro</text><text x="101.5" y="434" font-size="17" fill="#f7941d" textLength="42" lengthAdjust="spacingAndGlyphs">meteo</text></g>
</svg></body></html>
